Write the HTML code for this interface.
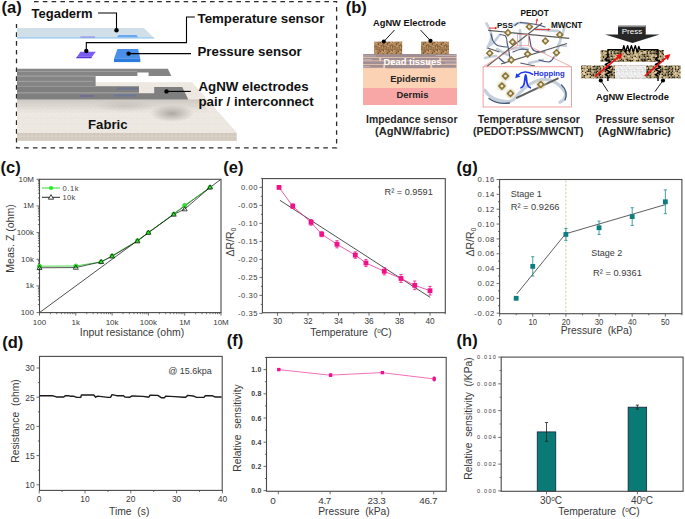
<!DOCTYPE html>
<html><head><meta charset="utf-8"><style>
html,body{margin:0;padding:0;background:#fff;overflow:hidden;}
svg{display:block;}
text{font-family:"Liberation Sans", sans-serif;white-space:pre;}
</style></head><body>
<svg width="685" height="519" viewBox="0 0 685 519">
<defs>
<pattern id="brown" width="9" height="9" patternUnits="userSpaceOnUse"><rect width="9" height="9" fill="#b08658"/><rect x="8.53" y="3.55" width="0.6" height="0.6" fill="#d4aa78"/><rect x="7.39" y="0.85" width="0.6" height="0.6" fill="#7a5634"/><rect x="1.93" y="0.77" width="1.2" height="1.2" fill="#6a4828"/><rect x="2.17" y="4.96" width="0.6" height="0.6" fill="#7a5634"/><rect x="5.09" y="8.53" width="0.6" height="0.6" fill="#caa070"/><rect x="5.27" y="0.45" width="0.8" height="0.8" fill="#6a4828"/><rect x="5.01" y="1.20" width="1.2" height="1.2" fill="#7a5634"/><rect x="4.87" y="5.14" width="0.8" height="0.8" fill="#8e6840"/><rect x="5.23" y="5.75" width="1.0" height="1.0" fill="#7a5634"/><rect x="4.93" y="0.57" width="0.6" height="0.6" fill="#7a5634"/><rect x="1.85" y="6.12" width="1.2" height="1.2" fill="#6a4828"/><rect x="2.83" y="5.27" width="1.2" height="1.2" fill="#caa070"/><rect x="2.70" y="7.15" width="0.8" height="0.8" fill="#d4aa78"/><rect x="5.17" y="4.73" width="1.0" height="1.0" fill="#7a5634"/><rect x="4.04" y="5.48" width="0.6" height="0.6" fill="#9a7248"/><rect x="4.61" y="1.48" width="1.0" height="1.0" fill="#7a5634"/><rect x="8.40" y="3.80" width="0.6" height="0.6" fill="#8e6840"/><rect x="5.02" y="7.10" width="1.0" height="1.0" fill="#caa070"/><rect x="6.26" y="5.35" width="1.2" height="1.2" fill="#d4aa78"/><rect x="7.56" y="8.50" width="1.2" height="1.2" fill="#7a5634"/><rect x="5.98" y="0.55" width="1.0" height="1.0" fill="#9a7248"/><rect x="5.20" y="6.13" width="1.2" height="1.2" fill="#9a7248"/><rect x="6.45" y="7.98" width="1.0" height="1.0" fill="#d4aa78"/><rect x="8.47" y="3.20" width="0.6" height="0.6" fill="#7a5634"/><rect x="0.53" y="6.91" width="0.8" height="0.8" fill="#c89a68"/><rect x="2.23" y="3.52" width="1.2" height="1.2" fill="#9a7248"/><rect x="1.50" y="3.61" width="1.0" height="1.0" fill="#7a5634"/><rect x="7.37" y="7.78" width="1.0" height="1.0" fill="#8e6840"/><rect x="3.74" y="3.23" width="1.2" height="1.2" fill="#9a7248"/><rect x="1.36" y="1.59" width="0.8" height="0.8" fill="#8e6840"/><rect x="2.10" y="4.36" width="0.8" height="0.8" fill="#9a7248"/><rect x="2.54" y="1.31" width="1.0" height="1.0" fill="#d4aa78"/><rect x="5.10" y="8.58" width="0.6" height="0.6" fill="#6a4828"/><rect x="8.10" y="7.02" width="1.2" height="1.2" fill="#c89a68"/><rect x="3.59" y="0.93" width="1.2" height="1.2" fill="#c89a68"/><rect x="1.72" y="8.86" width="1.2" height="1.2" fill="#7a5634"/><rect x="0.99" y="5.41" width="0.6" height="0.6" fill="#8e6840"/><rect x="5.10" y="4.83" width="1.0" height="1.0" fill="#7a5634"/><rect x="0.23" y="7.87" width="1.2" height="1.2" fill="#6a4828"/><rect x="5.71" y="8.60" width="1.0" height="1.0" fill="#8e6840"/><rect x="1.11" y="7.64" width="1.2" height="1.2" fill="#c89a68"/><rect x="4.35" y="0.77" width="0.6" height="0.6" fill="#c89a68"/><rect x="3.08" y="2.38" width="0.8" height="0.8" fill="#9a7248"/><rect x="0.21" y="8.56" width="1.0" height="1.0" fill="#6a4828"/><rect x="6.21" y="8.23" width="1.0" height="1.0" fill="#8e6840"/><rect x="7.77" y="6.27" width="1.0" height="1.0" fill="#9a7248"/><rect x="3.30" y="1.50" width="0.8" height="0.8" fill="#6a4828"/><rect x="4.87" y="4.52" width="0.8" height="0.8" fill="#6a4828"/><rect x="7.30" y="8.86" width="0.8" height="0.8" fill="#6a4828"/><rect x="2.15" y="3.61" width="0.8" height="0.8" fill="#caa070"/><rect x="4.66" y="3.20" width="0.6" height="0.6" fill="#8e6840"/><rect x="7.11" y="4.25" width="0.8" height="0.8" fill="#7a5634"/><rect x="5.45" y="3.10" width="1.0" height="1.0" fill="#9a7248"/><rect x="0.72" y="0.92" width="1.2" height="1.2" fill="#d4aa78"/><rect x="3.04" y="4.34" width="0.6" height="0.6" fill="#8e6840"/><rect x="8.18" y="3.10" width="0.6" height="0.6" fill="#c89a68"/><rect x="5.95" y="8.19" width="0.8" height="0.8" fill="#caa070"/><rect x="8.00" y="3.91" width="1.0" height="1.0" fill="#c89a68"/><rect x="7.21" y="8.74" width="1.2" height="1.2" fill="#7a5634"/><rect x="3.61" y="8.52" width="0.8" height="0.8" fill="#c89a68"/><rect x="8.94" y="0.25" width="1.2" height="1.2" fill="#8e6840"/><rect x="5.90" y="5.50" width="1.2" height="1.2" fill="#caa070"/><rect x="8.44" y="1.40" width="0.8" height="0.8" fill="#9a7248"/><rect x="0.13" y="8.74" width="0.6" height="0.6" fill="#7a5634"/><rect x="6.75" y="1.25" width="0.8" height="0.8" fill="#6a4828"/><rect x="7.87" y="0.25" width="0.8" height="0.8" fill="#caa070"/><rect x="4.51" y="6.87" width="1.0" height="1.0" fill="#d4aa78"/><rect x="4.90" y="7.51" width="0.6" height="0.6" fill="#d4aa78"/><rect x="3.18" y="4.12" width="1.2" height="1.2" fill="#9a7248"/><rect x="8.26" y="4.51" width="0.8" height="0.8" fill="#caa070"/><rect x="4.59" y="7.86" width="0.8" height="0.8" fill="#6a4828"/><rect x="0.04" y="7.19" width="0.8" height="0.8" fill="#6a4828"/><rect x="4.26" y="6.53" width="0.6" height="0.6" fill="#8e6840"/><rect x="6.14" y="4.78" width="1.2" height="1.2" fill="#d4aa78"/><rect x="6.99" y="7.95" width="0.6" height="0.6" fill="#caa070"/><rect x="1.72" y="0.38" width="0.6" height="0.6" fill="#8e6840"/><rect x="4.07" y="0.25" width="0.6" height="0.6" fill="#6a4828"/><rect x="2.93" y="8.76" width="0.8" height="0.8" fill="#c89a68"/><rect x="2.49" y="4.57" width="1.2" height="1.2" fill="#9a7248"/><rect x="8.47" y="6.29" width="1.0" height="1.0" fill="#6a4828"/><rect x="8.03" y="1.82" width="1.2" height="1.2" fill="#6a4828"/><rect x="3.75" y="3.53" width="1.0" height="1.0" fill="#8e6840"/><rect x="6.04" y="3.86" width="0.8" height="0.8" fill="#7a5634"/><rect x="2.73" y="1.10" width="0.8" height="0.8" fill="#9a7248"/><rect x="5.79" y="3.30" width="1.0" height="1.0" fill="#9a7248"/><rect x="8.71" y="1.98" width="0.6" height="0.6" fill="#8e6840"/><rect x="7.96" y="1.47" width="0.8" height="0.8" fill="#c89a68"/><rect x="6.36" y="8.95" width="1.2" height="1.2" fill="#8e6840"/><rect x="3.79" y="3.21" width="0.6" height="0.6" fill="#d4aa78"/><rect x="3.29" y="3.04" width="1.2" height="1.2" fill="#9a7248"/><rect x="6.33" y="3.46" width="1.0" height="1.0" fill="#c89a68"/><rect x="8.65" y="1.02" width="0.8" height="0.8" fill="#6a4828"/><rect x="0.76" y="2.45" width="0.8" height="0.8" fill="#7a5634"/><rect x="6.80" y="7.38" width="1.0" height="1.0" fill="#d4aa78"/><rect x="1.34" y="8.27" width="1.2" height="1.2" fill="#c89a68"/><rect x="2.94" y="2.51" width="0.8" height="0.8" fill="#9a7248"/><rect x="8.06" y="2.42" width="0.6" height="0.6" fill="#c89a68"/><rect x="0.80" y="2.34" width="0.8" height="0.8" fill="#9a7248"/><rect x="2.38" y="1.10" width="0.6" height="0.6" fill="#7a5634"/><rect x="8.95" y="3.76" width="1.0" height="1.0" fill="#d4aa78"/><rect x="1.16" y="4.74" width="0.8" height="0.8" fill="#6a4828"/><rect x="8.72" y="2.36" width="0.8" height="0.8" fill="#7a5634"/><rect x="8.39" y="5.66" width="0.8" height="0.8" fill="#8e6840"/><rect x="4.01" y="6.05" width="1.0" height="1.0" fill="#d4aa78"/><rect x="7.23" y="8.95" width="0.6" height="0.6" fill="#d4aa78"/><rect x="0.17" y="4.55" width="0.8" height="0.8" fill="#7a5634"/><rect x="4.27" y="8.41" width="0.6" height="0.6" fill="#6a4828"/><rect x="7.37" y="3.89" width="1.2" height="1.2" fill="#9a7248"/><rect x="7.51" y="3.54" width="1.0" height="1.0" fill="#6a4828"/><rect x="1.94" y="2.07" width="0.8" height="0.8" fill="#9a7248"/><rect x="7.94" y="6.56" width="0.8" height="0.8" fill="#caa070"/><rect x="8.90" y="8.84" width="0.8" height="0.8" fill="#c89a68"/><rect x="0.64" y="6.67" width="1.0" height="1.0" fill="#7a5634"/><rect x="1.47" y="0.76" width="1.2" height="1.2" fill="#c89a68"/><rect x="4.55" y="8.74" width="0.8" height="0.8" fill="#caa070"/><rect x="2.64" y="4.14" width="0.8" height="0.8" fill="#9a7248"/><rect x="4.01" y="2.37" width="1.0" height="1.0" fill="#d4aa78"/><rect x="2.91" y="0.31" width="1.0" height="1.0" fill="#6a4828"/><rect x="3.21" y="0.01" width="1.2" height="1.2" fill="#8e6840"/><rect x="4.27" y="4.52" width="0.8" height="0.8" fill="#7a5634"/></pattern>
<pattern id="burlap" width="36" height="36" patternUnits="userSpaceOnUse"><rect x="0.00" y="0.00" width="1.55" height="1.55" fill="#b09a68"/><rect x="0.00" y="1.50" width="1.55" height="1.55" fill="#3a2e1a"/><rect x="0.00" y="3.00" width="1.55" height="1.55" fill="#5a4a2c"/><rect x="0.00" y="4.50" width="1.55" height="1.55" fill="#cdb480"/><rect x="0.00" y="6.00" width="1.55" height="1.55" fill="#5a4a2c"/><rect x="0.00" y="7.50" width="1.55" height="1.55" fill="#8a7448"/><rect x="0.00" y="9.00" width="1.55" height="1.55" fill="#2a2214"/><rect x="0.00" y="10.50" width="1.55" height="1.55" fill="#3a2e1a"/><rect x="0.00" y="12.00" width="1.55" height="1.55" fill="#2a2214"/><rect x="0.00" y="13.50" width="1.55" height="1.55" fill="#3a2e1a"/><rect x="0.00" y="15.00" width="1.55" height="1.55" fill="#cdb480"/><rect x="0.00" y="16.50" width="1.55" height="1.55" fill="#cdb480"/><rect x="0.00" y="18.00" width="1.55" height="1.55" fill="#b09a68"/><rect x="0.00" y="19.50" width="1.55" height="1.55" fill="#5a4a2c"/><rect x="0.00" y="21.00" width="1.55" height="1.55" fill="#8a7448"/><rect x="0.00" y="22.50" width="1.55" height="1.55" fill="#2a2214"/><rect x="0.00" y="24.00" width="1.55" height="1.55" fill="#dcc898"/><rect x="0.00" y="25.50" width="1.55" height="1.55" fill="#a08858"/><rect x="0.00" y="27.00" width="1.55" height="1.55" fill="#8a7448"/><rect x="0.00" y="28.50" width="1.55" height="1.55" fill="#cdb480"/><rect x="0.00" y="30.00" width="1.55" height="1.55" fill="#8a7448"/><rect x="0.00" y="31.50" width="1.55" height="1.55" fill="#3a2e1a"/><rect x="0.00" y="33.00" width="1.55" height="1.55" fill="#2a2214"/><rect x="0.00" y="34.50" width="1.55" height="1.55" fill="#8a7448"/><rect x="1.50" y="0.00" width="1.55" height="1.55" fill="#3a2e1a"/><rect x="1.50" y="1.50" width="1.55" height="1.55" fill="#b09a68"/><rect x="1.50" y="3.00" width="1.55" height="1.55" fill="#5a4a2c"/><rect x="1.50" y="4.50" width="1.55" height="1.55" fill="#3a2e1a"/><rect x="1.50" y="6.00" width="1.55" height="1.55" fill="#3a2e1a"/><rect x="1.50" y="7.50" width="1.55" height="1.55" fill="#8a7448"/><rect x="1.50" y="9.00" width="1.55" height="1.55" fill="#dcc898"/><rect x="1.50" y="10.50" width="1.55" height="1.55" fill="#5a4a2c"/><rect x="1.50" y="12.00" width="1.55" height="1.55" fill="#2a2214"/><rect x="1.50" y="13.50" width="1.55" height="1.55" fill="#a08858"/><rect x="1.50" y="15.00" width="1.55" height="1.55" fill="#3a2e1a"/><rect x="1.50" y="16.50" width="1.55" height="1.55" fill="#3a2e1a"/><rect x="1.50" y="18.00" width="1.55" height="1.55" fill="#b09a68"/><rect x="1.50" y="19.50" width="1.55" height="1.55" fill="#a08858"/><rect x="1.50" y="21.00" width="1.55" height="1.55" fill="#cdb480"/><rect x="1.50" y="22.50" width="1.55" height="1.55" fill="#3a2e1a"/><rect x="1.50" y="24.00" width="1.55" height="1.55" fill="#a08858"/><rect x="1.50" y="25.50" width="1.55" height="1.55" fill="#5a4a2c"/><rect x="1.50" y="27.00" width="1.55" height="1.55" fill="#5a4a2c"/><rect x="1.50" y="28.50" width="1.55" height="1.55" fill="#5a4a2c"/><rect x="1.50" y="30.00" width="1.55" height="1.55" fill="#a08858"/><rect x="1.50" y="31.50" width="1.55" height="1.55" fill="#cdb480"/><rect x="1.50" y="33.00" width="1.55" height="1.55" fill="#5a4a2c"/><rect x="1.50" y="34.50" width="1.55" height="1.55" fill="#cdb480"/><rect x="3.00" y="0.00" width="1.55" height="1.55" fill="#b09a68"/><rect x="3.00" y="1.50" width="1.55" height="1.55" fill="#b09a68"/><rect x="3.00" y="3.00" width="1.55" height="1.55" fill="#b09a68"/><rect x="3.00" y="4.50" width="1.55" height="1.55" fill="#a08858"/><rect x="3.00" y="6.00" width="1.55" height="1.55" fill="#a08858"/><rect x="3.00" y="7.50" width="1.55" height="1.55" fill="#2a2214"/><rect x="3.00" y="9.00" width="1.55" height="1.55" fill="#5a4a2c"/><rect x="3.00" y="10.50" width="1.55" height="1.55" fill="#a08858"/><rect x="3.00" y="12.00" width="1.55" height="1.55" fill="#cdb480"/><rect x="3.00" y="13.50" width="1.55" height="1.55" fill="#3a2e1a"/><rect x="3.00" y="15.00" width="1.55" height="1.55" fill="#b09a68"/><rect x="3.00" y="16.50" width="1.55" height="1.55" fill="#5a4a2c"/><rect x="3.00" y="18.00" width="1.55" height="1.55" fill="#8a7448"/><rect x="3.00" y="19.50" width="1.55" height="1.55" fill="#dcc898"/><rect x="3.00" y="21.00" width="1.55" height="1.55" fill="#cdb480"/><rect x="3.00" y="22.50" width="1.55" height="1.55" fill="#cdb480"/><rect x="3.00" y="24.00" width="1.55" height="1.55" fill="#8a7448"/><rect x="3.00" y="25.50" width="1.55" height="1.55" fill="#3a2e1a"/><rect x="3.00" y="27.00" width="1.55" height="1.55" fill="#a08858"/><rect x="3.00" y="28.50" width="1.55" height="1.55" fill="#3a2e1a"/><rect x="3.00" y="30.00" width="1.55" height="1.55" fill="#a08858"/><rect x="3.00" y="31.50" width="1.55" height="1.55" fill="#cdb480"/><rect x="3.00" y="33.00" width="1.55" height="1.55" fill="#5a4a2c"/><rect x="3.00" y="34.50" width="1.55" height="1.55" fill="#b09a68"/><rect x="4.50" y="0.00" width="1.55" height="1.55" fill="#a08858"/><rect x="4.50" y="1.50" width="1.55" height="1.55" fill="#cdb480"/><rect x="4.50" y="3.00" width="1.55" height="1.55" fill="#cdb480"/><rect x="4.50" y="4.50" width="1.55" height="1.55" fill="#a08858"/><rect x="4.50" y="6.00" width="1.55" height="1.55" fill="#a08858"/><rect x="4.50" y="7.50" width="1.55" height="1.55" fill="#a08858"/><rect x="4.50" y="9.00" width="1.55" height="1.55" fill="#5a4a2c"/><rect x="4.50" y="10.50" width="1.55" height="1.55" fill="#b09a68"/><rect x="4.50" y="12.00" width="1.55" height="1.55" fill="#cdb480"/><rect x="4.50" y="13.50" width="1.55" height="1.55" fill="#5a4a2c"/><rect x="4.50" y="15.00" width="1.55" height="1.55" fill="#a08858"/><rect x="4.50" y="16.50" width="1.55" height="1.55" fill="#3a2e1a"/><rect x="4.50" y="18.00" width="1.55" height="1.55" fill="#cdb480"/><rect x="4.50" y="19.50" width="1.55" height="1.55" fill="#a08858"/><rect x="4.50" y="21.00" width="1.55" height="1.55" fill="#5a4a2c"/><rect x="4.50" y="22.50" width="1.55" height="1.55" fill="#a08858"/><rect x="4.50" y="24.00" width="1.55" height="1.55" fill="#cdb480"/><rect x="4.50" y="25.50" width="1.55" height="1.55" fill="#2a2214"/><rect x="4.50" y="27.00" width="1.55" height="1.55" fill="#b09a68"/><rect x="4.50" y="28.50" width="1.55" height="1.55" fill="#b09a68"/><rect x="4.50" y="30.00" width="1.55" height="1.55" fill="#5a4a2c"/><rect x="4.50" y="31.50" width="1.55" height="1.55" fill="#5a4a2c"/><rect x="4.50" y="33.00" width="1.55" height="1.55" fill="#8a7448"/><rect x="4.50" y="34.50" width="1.55" height="1.55" fill="#cdb480"/><rect x="6.00" y="0.00" width="1.55" height="1.55" fill="#dcc898"/><rect x="6.00" y="1.50" width="1.55" height="1.55" fill="#8a7448"/><rect x="6.00" y="3.00" width="1.55" height="1.55" fill="#cdb480"/><rect x="6.00" y="4.50" width="1.55" height="1.55" fill="#5a4a2c"/><rect x="6.00" y="6.00" width="1.55" height="1.55" fill="#dcc898"/><rect x="6.00" y="7.50" width="1.55" height="1.55" fill="#b09a68"/><rect x="6.00" y="9.00" width="1.55" height="1.55" fill="#a08858"/><rect x="6.00" y="10.50" width="1.55" height="1.55" fill="#a08858"/><rect x="6.00" y="12.00" width="1.55" height="1.55" fill="#2a2214"/><rect x="6.00" y="13.50" width="1.55" height="1.55" fill="#3a2e1a"/><rect x="6.00" y="15.00" width="1.55" height="1.55" fill="#8a7448"/><rect x="6.00" y="16.50" width="1.55" height="1.55" fill="#3a2e1a"/><rect x="6.00" y="18.00" width="1.55" height="1.55" fill="#a08858"/><rect x="6.00" y="19.50" width="1.55" height="1.55" fill="#a08858"/><rect x="6.00" y="21.00" width="1.55" height="1.55" fill="#2a2214"/><rect x="6.00" y="22.50" width="1.55" height="1.55" fill="#cdb480"/><rect x="6.00" y="24.00" width="1.55" height="1.55" fill="#8a7448"/><rect x="6.00" y="25.50" width="1.55" height="1.55" fill="#2a2214"/><rect x="6.00" y="27.00" width="1.55" height="1.55" fill="#dcc898"/><rect x="6.00" y="28.50" width="1.55" height="1.55" fill="#2a2214"/><rect x="6.00" y="30.00" width="1.55" height="1.55" fill="#dcc898"/><rect x="6.00" y="31.50" width="1.55" height="1.55" fill="#5a4a2c"/><rect x="6.00" y="33.00" width="1.55" height="1.55" fill="#dcc898"/><rect x="6.00" y="34.50" width="1.55" height="1.55" fill="#3a2e1a"/><rect x="7.50" y="0.00" width="1.55" height="1.55" fill="#dcc898"/><rect x="7.50" y="1.50" width="1.55" height="1.55" fill="#dcc898"/><rect x="7.50" y="3.00" width="1.55" height="1.55" fill="#2a2214"/><rect x="7.50" y="4.50" width="1.55" height="1.55" fill="#5a4a2c"/><rect x="7.50" y="6.00" width="1.55" height="1.55" fill="#b09a68"/><rect x="7.50" y="7.50" width="1.55" height="1.55" fill="#3a2e1a"/><rect x="7.50" y="9.00" width="1.55" height="1.55" fill="#cdb480"/><rect x="7.50" y="10.50" width="1.55" height="1.55" fill="#cdb480"/><rect x="7.50" y="12.00" width="1.55" height="1.55" fill="#dcc898"/><rect x="7.50" y="13.50" width="1.55" height="1.55" fill="#5a4a2c"/><rect x="7.50" y="15.00" width="1.55" height="1.55" fill="#2a2214"/><rect x="7.50" y="16.50" width="1.55" height="1.55" fill="#2a2214"/><rect x="7.50" y="18.00" width="1.55" height="1.55" fill="#5a4a2c"/><rect x="7.50" y="19.50" width="1.55" height="1.55" fill="#dcc898"/><rect x="7.50" y="21.00" width="1.55" height="1.55" fill="#2a2214"/><rect x="7.50" y="22.50" width="1.55" height="1.55" fill="#cdb480"/><rect x="7.50" y="24.00" width="1.55" height="1.55" fill="#3a2e1a"/><rect x="7.50" y="25.50" width="1.55" height="1.55" fill="#cdb480"/><rect x="7.50" y="27.00" width="1.55" height="1.55" fill="#5a4a2c"/><rect x="7.50" y="28.50" width="1.55" height="1.55" fill="#3a2e1a"/><rect x="7.50" y="30.00" width="1.55" height="1.55" fill="#cdb480"/><rect x="7.50" y="31.50" width="1.55" height="1.55" fill="#8a7448"/><rect x="7.50" y="33.00" width="1.55" height="1.55" fill="#b09a68"/><rect x="7.50" y="34.50" width="1.55" height="1.55" fill="#cdb480"/><rect x="9.00" y="0.00" width="1.55" height="1.55" fill="#2a2214"/><rect x="9.00" y="1.50" width="1.55" height="1.55" fill="#dcc898"/><rect x="9.00" y="3.00" width="1.55" height="1.55" fill="#b09a68"/><rect x="9.00" y="4.50" width="1.55" height="1.55" fill="#dcc898"/><rect x="9.00" y="6.00" width="1.55" height="1.55" fill="#2a2214"/><rect x="9.00" y="7.50" width="1.55" height="1.55" fill="#3a2e1a"/><rect x="9.00" y="9.00" width="1.55" height="1.55" fill="#2a2214"/><rect x="9.00" y="10.50" width="1.55" height="1.55" fill="#b09a68"/><rect x="9.00" y="12.00" width="1.55" height="1.55" fill="#5a4a2c"/><rect x="9.00" y="13.50" width="1.55" height="1.55" fill="#3a2e1a"/><rect x="9.00" y="15.00" width="1.55" height="1.55" fill="#2a2214"/><rect x="9.00" y="16.50" width="1.55" height="1.55" fill="#a08858"/><rect x="9.00" y="18.00" width="1.55" height="1.55" fill="#8a7448"/><rect x="9.00" y="19.50" width="1.55" height="1.55" fill="#cdb480"/><rect x="9.00" y="21.00" width="1.55" height="1.55" fill="#a08858"/><rect x="9.00" y="22.50" width="1.55" height="1.55" fill="#3a2e1a"/><rect x="9.00" y="24.00" width="1.55" height="1.55" fill="#8a7448"/><rect x="9.00" y="25.50" width="1.55" height="1.55" fill="#8a7448"/><rect x="9.00" y="27.00" width="1.55" height="1.55" fill="#a08858"/><rect x="9.00" y="28.50" width="1.55" height="1.55" fill="#2a2214"/><rect x="9.00" y="30.00" width="1.55" height="1.55" fill="#dcc898"/><rect x="9.00" y="31.50" width="1.55" height="1.55" fill="#cdb480"/><rect x="9.00" y="33.00" width="1.55" height="1.55" fill="#cdb480"/><rect x="9.00" y="34.50" width="1.55" height="1.55" fill="#cdb480"/><rect x="10.50" y="0.00" width="1.55" height="1.55" fill="#cdb480"/><rect x="10.50" y="1.50" width="1.55" height="1.55" fill="#2a2214"/><rect x="10.50" y="3.00" width="1.55" height="1.55" fill="#b09a68"/><rect x="10.50" y="4.50" width="1.55" height="1.55" fill="#cdb480"/><rect x="10.50" y="6.00" width="1.55" height="1.55" fill="#a08858"/><rect x="10.50" y="7.50" width="1.55" height="1.55" fill="#2a2214"/><rect x="10.50" y="9.00" width="1.55" height="1.55" fill="#5a4a2c"/><rect x="10.50" y="10.50" width="1.55" height="1.55" fill="#8a7448"/><rect x="10.50" y="12.00" width="1.55" height="1.55" fill="#8a7448"/><rect x="10.50" y="13.50" width="1.55" height="1.55" fill="#5a4a2c"/><rect x="10.50" y="15.00" width="1.55" height="1.55" fill="#b09a68"/><rect x="10.50" y="16.50" width="1.55" height="1.55" fill="#a08858"/><rect x="10.50" y="18.00" width="1.55" height="1.55" fill="#b09a68"/><rect x="10.50" y="19.50" width="1.55" height="1.55" fill="#a08858"/><rect x="10.50" y="21.00" width="1.55" height="1.55" fill="#dcc898"/><rect x="10.50" y="22.50" width="1.55" height="1.55" fill="#a08858"/><rect x="10.50" y="24.00" width="1.55" height="1.55" fill="#2a2214"/><rect x="10.50" y="25.50" width="1.55" height="1.55" fill="#8a7448"/><rect x="10.50" y="27.00" width="1.55" height="1.55" fill="#b09a68"/><rect x="10.50" y="28.50" width="1.55" height="1.55" fill="#b09a68"/><rect x="10.50" y="30.00" width="1.55" height="1.55" fill="#5a4a2c"/><rect x="10.50" y="31.50" width="1.55" height="1.55" fill="#8a7448"/><rect x="10.50" y="33.00" width="1.55" height="1.55" fill="#dcc898"/><rect x="10.50" y="34.50" width="1.55" height="1.55" fill="#5a4a2c"/><rect x="12.00" y="0.00" width="1.55" height="1.55" fill="#dcc898"/><rect x="12.00" y="1.50" width="1.55" height="1.55" fill="#b09a68"/><rect x="12.00" y="3.00" width="1.55" height="1.55" fill="#dcc898"/><rect x="12.00" y="4.50" width="1.55" height="1.55" fill="#cdb480"/><rect x="12.00" y="6.00" width="1.55" height="1.55" fill="#b09a68"/><rect x="12.00" y="7.50" width="1.55" height="1.55" fill="#3a2e1a"/><rect x="12.00" y="9.00" width="1.55" height="1.55" fill="#2a2214"/><rect x="12.00" y="10.50" width="1.55" height="1.55" fill="#2a2214"/><rect x="12.00" y="12.00" width="1.55" height="1.55" fill="#2a2214"/><rect x="12.00" y="13.50" width="1.55" height="1.55" fill="#b09a68"/><rect x="12.00" y="15.00" width="1.55" height="1.55" fill="#2a2214"/><rect x="12.00" y="16.50" width="1.55" height="1.55" fill="#cdb480"/><rect x="12.00" y="18.00" width="1.55" height="1.55" fill="#dcc898"/><rect x="12.00" y="19.50" width="1.55" height="1.55" fill="#3a2e1a"/><rect x="12.00" y="21.00" width="1.55" height="1.55" fill="#a08858"/><rect x="12.00" y="22.50" width="1.55" height="1.55" fill="#cdb480"/><rect x="12.00" y="24.00" width="1.55" height="1.55" fill="#dcc898"/><rect x="12.00" y="25.50" width="1.55" height="1.55" fill="#8a7448"/><rect x="12.00" y="27.00" width="1.55" height="1.55" fill="#b09a68"/><rect x="12.00" y="28.50" width="1.55" height="1.55" fill="#5a4a2c"/><rect x="12.00" y="30.00" width="1.55" height="1.55" fill="#cdb480"/><rect x="12.00" y="31.50" width="1.55" height="1.55" fill="#b09a68"/><rect x="12.00" y="33.00" width="1.55" height="1.55" fill="#2a2214"/><rect x="12.00" y="34.50" width="1.55" height="1.55" fill="#2a2214"/><rect x="13.50" y="0.00" width="1.55" height="1.55" fill="#a08858"/><rect x="13.50" y="1.50" width="1.55" height="1.55" fill="#2a2214"/><rect x="13.50" y="3.00" width="1.55" height="1.55" fill="#cdb480"/><rect x="13.50" y="4.50" width="1.55" height="1.55" fill="#3a2e1a"/><rect x="13.50" y="6.00" width="1.55" height="1.55" fill="#8a7448"/><rect x="13.50" y="7.50" width="1.55" height="1.55" fill="#3a2e1a"/><rect x="13.50" y="9.00" width="1.55" height="1.55" fill="#2a2214"/><rect x="13.50" y="10.50" width="1.55" height="1.55" fill="#a08858"/><rect x="13.50" y="12.00" width="1.55" height="1.55" fill="#a08858"/><rect x="13.50" y="13.50" width="1.55" height="1.55" fill="#3a2e1a"/><rect x="13.50" y="15.00" width="1.55" height="1.55" fill="#5a4a2c"/><rect x="13.50" y="16.50" width="1.55" height="1.55" fill="#2a2214"/><rect x="13.50" y="18.00" width="1.55" height="1.55" fill="#a08858"/><rect x="13.50" y="19.50" width="1.55" height="1.55" fill="#a08858"/><rect x="13.50" y="21.00" width="1.55" height="1.55" fill="#b09a68"/><rect x="13.50" y="22.50" width="1.55" height="1.55" fill="#5a4a2c"/><rect x="13.50" y="24.00" width="1.55" height="1.55" fill="#b09a68"/><rect x="13.50" y="25.50" width="1.55" height="1.55" fill="#8a7448"/><rect x="13.50" y="27.00" width="1.55" height="1.55" fill="#8a7448"/><rect x="13.50" y="28.50" width="1.55" height="1.55" fill="#5a4a2c"/><rect x="13.50" y="30.00" width="1.55" height="1.55" fill="#a08858"/><rect x="13.50" y="31.50" width="1.55" height="1.55" fill="#5a4a2c"/><rect x="13.50" y="33.00" width="1.55" height="1.55" fill="#3a2e1a"/><rect x="13.50" y="34.50" width="1.55" height="1.55" fill="#3a2e1a"/><rect x="15.00" y="0.00" width="1.55" height="1.55" fill="#8a7448"/><rect x="15.00" y="1.50" width="1.55" height="1.55" fill="#b09a68"/><rect x="15.00" y="3.00" width="1.55" height="1.55" fill="#3a2e1a"/><rect x="15.00" y="4.50" width="1.55" height="1.55" fill="#cdb480"/><rect x="15.00" y="6.00" width="1.55" height="1.55" fill="#8a7448"/><rect x="15.00" y="7.50" width="1.55" height="1.55" fill="#cdb480"/><rect x="15.00" y="9.00" width="1.55" height="1.55" fill="#2a2214"/><rect x="15.00" y="10.50" width="1.55" height="1.55" fill="#5a4a2c"/><rect x="15.00" y="12.00" width="1.55" height="1.55" fill="#5a4a2c"/><rect x="15.00" y="13.50" width="1.55" height="1.55" fill="#5a4a2c"/><rect x="15.00" y="15.00" width="1.55" height="1.55" fill="#cdb480"/><rect x="15.00" y="16.50" width="1.55" height="1.55" fill="#b09a68"/><rect x="15.00" y="18.00" width="1.55" height="1.55" fill="#2a2214"/><rect x="15.00" y="19.50" width="1.55" height="1.55" fill="#cdb480"/><rect x="15.00" y="21.00" width="1.55" height="1.55" fill="#b09a68"/><rect x="15.00" y="22.50" width="1.55" height="1.55" fill="#3a2e1a"/><rect x="15.00" y="24.00" width="1.55" height="1.55" fill="#3a2e1a"/><rect x="15.00" y="25.50" width="1.55" height="1.55" fill="#cdb480"/><rect x="15.00" y="27.00" width="1.55" height="1.55" fill="#a08858"/><rect x="15.00" y="28.50" width="1.55" height="1.55" fill="#cdb480"/><rect x="15.00" y="30.00" width="1.55" height="1.55" fill="#dcc898"/><rect x="15.00" y="31.50" width="1.55" height="1.55" fill="#b09a68"/><rect x="15.00" y="33.00" width="1.55" height="1.55" fill="#a08858"/><rect x="15.00" y="34.50" width="1.55" height="1.55" fill="#b09a68"/><rect x="16.50" y="0.00" width="1.55" height="1.55" fill="#b09a68"/><rect x="16.50" y="1.50" width="1.55" height="1.55" fill="#3a2e1a"/><rect x="16.50" y="3.00" width="1.55" height="1.55" fill="#2a2214"/><rect x="16.50" y="4.50" width="1.55" height="1.55" fill="#cdb480"/><rect x="16.50" y="6.00" width="1.55" height="1.55" fill="#3a2e1a"/><rect x="16.50" y="7.50" width="1.55" height="1.55" fill="#3a2e1a"/><rect x="16.50" y="9.00" width="1.55" height="1.55" fill="#b09a68"/><rect x="16.50" y="10.50" width="1.55" height="1.55" fill="#a08858"/><rect x="16.50" y="12.00" width="1.55" height="1.55" fill="#2a2214"/><rect x="16.50" y="13.50" width="1.55" height="1.55" fill="#5a4a2c"/><rect x="16.50" y="15.00" width="1.55" height="1.55" fill="#cdb480"/><rect x="16.50" y="16.50" width="1.55" height="1.55" fill="#b09a68"/><rect x="16.50" y="18.00" width="1.55" height="1.55" fill="#2a2214"/><rect x="16.50" y="19.50" width="1.55" height="1.55" fill="#dcc898"/><rect x="16.50" y="21.00" width="1.55" height="1.55" fill="#b09a68"/><rect x="16.50" y="22.50" width="1.55" height="1.55" fill="#a08858"/><rect x="16.50" y="24.00" width="1.55" height="1.55" fill="#3a2e1a"/><rect x="16.50" y="25.50" width="1.55" height="1.55" fill="#dcc898"/><rect x="16.50" y="27.00" width="1.55" height="1.55" fill="#2a2214"/><rect x="16.50" y="28.50" width="1.55" height="1.55" fill="#dcc898"/><rect x="16.50" y="30.00" width="1.55" height="1.55" fill="#2a2214"/><rect x="16.50" y="31.50" width="1.55" height="1.55" fill="#b09a68"/><rect x="16.50" y="33.00" width="1.55" height="1.55" fill="#3a2e1a"/><rect x="16.50" y="34.50" width="1.55" height="1.55" fill="#cdb480"/><rect x="18.00" y="0.00" width="1.55" height="1.55" fill="#5a4a2c"/><rect x="18.00" y="1.50" width="1.55" height="1.55" fill="#b09a68"/><rect x="18.00" y="3.00" width="1.55" height="1.55" fill="#a08858"/><rect x="18.00" y="4.50" width="1.55" height="1.55" fill="#b09a68"/><rect x="18.00" y="6.00" width="1.55" height="1.55" fill="#cdb480"/><rect x="18.00" y="7.50" width="1.55" height="1.55" fill="#b09a68"/><rect x="18.00" y="9.00" width="1.55" height="1.55" fill="#b09a68"/><rect x="18.00" y="10.50" width="1.55" height="1.55" fill="#a08858"/><rect x="18.00" y="12.00" width="1.55" height="1.55" fill="#b09a68"/><rect x="18.00" y="13.50" width="1.55" height="1.55" fill="#cdb480"/><rect x="18.00" y="15.00" width="1.55" height="1.55" fill="#cdb480"/><rect x="18.00" y="16.50" width="1.55" height="1.55" fill="#5a4a2c"/><rect x="18.00" y="18.00" width="1.55" height="1.55" fill="#a08858"/><rect x="18.00" y="19.50" width="1.55" height="1.55" fill="#8a7448"/><rect x="18.00" y="21.00" width="1.55" height="1.55" fill="#b09a68"/><rect x="18.00" y="22.50" width="1.55" height="1.55" fill="#a08858"/><rect x="18.00" y="24.00" width="1.55" height="1.55" fill="#2a2214"/><rect x="18.00" y="25.50" width="1.55" height="1.55" fill="#3a2e1a"/><rect x="18.00" y="27.00" width="1.55" height="1.55" fill="#8a7448"/><rect x="18.00" y="28.50" width="1.55" height="1.55" fill="#2a2214"/><rect x="18.00" y="30.00" width="1.55" height="1.55" fill="#3a2e1a"/><rect x="18.00" y="31.50" width="1.55" height="1.55" fill="#b09a68"/><rect x="18.00" y="33.00" width="1.55" height="1.55" fill="#3a2e1a"/><rect x="18.00" y="34.50" width="1.55" height="1.55" fill="#8a7448"/><rect x="19.50" y="0.00" width="1.55" height="1.55" fill="#2a2214"/><rect x="19.50" y="1.50" width="1.55" height="1.55" fill="#3a2e1a"/><rect x="19.50" y="3.00" width="1.55" height="1.55" fill="#3a2e1a"/><rect x="19.50" y="4.50" width="1.55" height="1.55" fill="#8a7448"/><rect x="19.50" y="6.00" width="1.55" height="1.55" fill="#2a2214"/><rect x="19.50" y="7.50" width="1.55" height="1.55" fill="#a08858"/><rect x="19.50" y="9.00" width="1.55" height="1.55" fill="#dcc898"/><rect x="19.50" y="10.50" width="1.55" height="1.55" fill="#5a4a2c"/><rect x="19.50" y="12.00" width="1.55" height="1.55" fill="#5a4a2c"/><rect x="19.50" y="13.50" width="1.55" height="1.55" fill="#8a7448"/><rect x="19.50" y="15.00" width="1.55" height="1.55" fill="#dcc898"/><rect x="19.50" y="16.50" width="1.55" height="1.55" fill="#b09a68"/><rect x="19.50" y="18.00" width="1.55" height="1.55" fill="#8a7448"/><rect x="19.50" y="19.50" width="1.55" height="1.55" fill="#a08858"/><rect x="19.50" y="21.00" width="1.55" height="1.55" fill="#3a2e1a"/><rect x="19.50" y="22.50" width="1.55" height="1.55" fill="#cdb480"/><rect x="19.50" y="24.00" width="1.55" height="1.55" fill="#2a2214"/><rect x="19.50" y="25.50" width="1.55" height="1.55" fill="#dcc898"/><rect x="19.50" y="27.00" width="1.55" height="1.55" fill="#dcc898"/><rect x="19.50" y="28.50" width="1.55" height="1.55" fill="#a08858"/><rect x="19.50" y="30.00" width="1.55" height="1.55" fill="#8a7448"/><rect x="19.50" y="31.50" width="1.55" height="1.55" fill="#5a4a2c"/><rect x="19.50" y="33.00" width="1.55" height="1.55" fill="#3a2e1a"/><rect x="19.50" y="34.50" width="1.55" height="1.55" fill="#5a4a2c"/><rect x="21.00" y="0.00" width="1.55" height="1.55" fill="#cdb480"/><rect x="21.00" y="1.50" width="1.55" height="1.55" fill="#5a4a2c"/><rect x="21.00" y="3.00" width="1.55" height="1.55" fill="#dcc898"/><rect x="21.00" y="4.50" width="1.55" height="1.55" fill="#2a2214"/><rect x="21.00" y="6.00" width="1.55" height="1.55" fill="#5a4a2c"/><rect x="21.00" y="7.50" width="1.55" height="1.55" fill="#b09a68"/><rect x="21.00" y="9.00" width="1.55" height="1.55" fill="#2a2214"/><rect x="21.00" y="10.50" width="1.55" height="1.55" fill="#dcc898"/><rect x="21.00" y="12.00" width="1.55" height="1.55" fill="#cdb480"/><rect x="21.00" y="13.50" width="1.55" height="1.55" fill="#2a2214"/><rect x="21.00" y="15.00" width="1.55" height="1.55" fill="#5a4a2c"/><rect x="21.00" y="16.50" width="1.55" height="1.55" fill="#3a2e1a"/><rect x="21.00" y="18.00" width="1.55" height="1.55" fill="#a08858"/><rect x="21.00" y="19.50" width="1.55" height="1.55" fill="#b09a68"/><rect x="21.00" y="21.00" width="1.55" height="1.55" fill="#dcc898"/><rect x="21.00" y="22.50" width="1.55" height="1.55" fill="#a08858"/><rect x="21.00" y="24.00" width="1.55" height="1.55" fill="#b09a68"/><rect x="21.00" y="25.50" width="1.55" height="1.55" fill="#dcc898"/><rect x="21.00" y="27.00" width="1.55" height="1.55" fill="#dcc898"/><rect x="21.00" y="28.50" width="1.55" height="1.55" fill="#a08858"/><rect x="21.00" y="30.00" width="1.55" height="1.55" fill="#3a2e1a"/><rect x="21.00" y="31.50" width="1.55" height="1.55" fill="#2a2214"/><rect x="21.00" y="33.00" width="1.55" height="1.55" fill="#b09a68"/><rect x="21.00" y="34.50" width="1.55" height="1.55" fill="#2a2214"/><rect x="22.50" y="0.00" width="1.55" height="1.55" fill="#3a2e1a"/><rect x="22.50" y="1.50" width="1.55" height="1.55" fill="#2a2214"/><rect x="22.50" y="3.00" width="1.55" height="1.55" fill="#3a2e1a"/><rect x="22.50" y="4.50" width="1.55" height="1.55" fill="#a08858"/><rect x="22.50" y="6.00" width="1.55" height="1.55" fill="#5a4a2c"/><rect x="22.50" y="7.50" width="1.55" height="1.55" fill="#3a2e1a"/><rect x="22.50" y="9.00" width="1.55" height="1.55" fill="#cdb480"/><rect x="22.50" y="10.50" width="1.55" height="1.55" fill="#b09a68"/><rect x="22.50" y="12.00" width="1.55" height="1.55" fill="#5a4a2c"/><rect x="22.50" y="13.50" width="1.55" height="1.55" fill="#dcc898"/><rect x="22.50" y="15.00" width="1.55" height="1.55" fill="#dcc898"/><rect x="22.50" y="16.50" width="1.55" height="1.55" fill="#cdb480"/><rect x="22.50" y="18.00" width="1.55" height="1.55" fill="#dcc898"/><rect x="22.50" y="19.50" width="1.55" height="1.55" fill="#3a2e1a"/><rect x="22.50" y="21.00" width="1.55" height="1.55" fill="#cdb480"/><rect x="22.50" y="22.50" width="1.55" height="1.55" fill="#dcc898"/><rect x="22.50" y="24.00" width="1.55" height="1.55" fill="#cdb480"/><rect x="22.50" y="25.50" width="1.55" height="1.55" fill="#cdb480"/><rect x="22.50" y="27.00" width="1.55" height="1.55" fill="#3a2e1a"/><rect x="22.50" y="28.50" width="1.55" height="1.55" fill="#5a4a2c"/><rect x="22.50" y="30.00" width="1.55" height="1.55" fill="#3a2e1a"/><rect x="22.50" y="31.50" width="1.55" height="1.55" fill="#b09a68"/><rect x="22.50" y="33.00" width="1.55" height="1.55" fill="#5a4a2c"/><rect x="22.50" y="34.50" width="1.55" height="1.55" fill="#a08858"/><rect x="24.00" y="0.00" width="1.55" height="1.55" fill="#a08858"/><rect x="24.00" y="1.50" width="1.55" height="1.55" fill="#2a2214"/><rect x="24.00" y="3.00" width="1.55" height="1.55" fill="#cdb480"/><rect x="24.00" y="4.50" width="1.55" height="1.55" fill="#2a2214"/><rect x="24.00" y="6.00" width="1.55" height="1.55" fill="#a08858"/><rect x="24.00" y="7.50" width="1.55" height="1.55" fill="#8a7448"/><rect x="24.00" y="9.00" width="1.55" height="1.55" fill="#a08858"/><rect x="24.00" y="10.50" width="1.55" height="1.55" fill="#8a7448"/><rect x="24.00" y="12.00" width="1.55" height="1.55" fill="#3a2e1a"/><rect x="24.00" y="13.50" width="1.55" height="1.55" fill="#cdb480"/><rect x="24.00" y="15.00" width="1.55" height="1.55" fill="#8a7448"/><rect x="24.00" y="16.50" width="1.55" height="1.55" fill="#b09a68"/><rect x="24.00" y="18.00" width="1.55" height="1.55" fill="#dcc898"/><rect x="24.00" y="19.50" width="1.55" height="1.55" fill="#dcc898"/><rect x="24.00" y="21.00" width="1.55" height="1.55" fill="#a08858"/><rect x="24.00" y="22.50" width="1.55" height="1.55" fill="#dcc898"/><rect x="24.00" y="24.00" width="1.55" height="1.55" fill="#5a4a2c"/><rect x="24.00" y="25.50" width="1.55" height="1.55" fill="#b09a68"/><rect x="24.00" y="27.00" width="1.55" height="1.55" fill="#2a2214"/><rect x="24.00" y="28.50" width="1.55" height="1.55" fill="#8a7448"/><rect x="24.00" y="30.00" width="1.55" height="1.55" fill="#b09a68"/><rect x="24.00" y="31.50" width="1.55" height="1.55" fill="#2a2214"/><rect x="24.00" y="33.00" width="1.55" height="1.55" fill="#5a4a2c"/><rect x="24.00" y="34.50" width="1.55" height="1.55" fill="#3a2e1a"/><rect x="25.50" y="0.00" width="1.55" height="1.55" fill="#a08858"/><rect x="25.50" y="1.50" width="1.55" height="1.55" fill="#dcc898"/><rect x="25.50" y="3.00" width="1.55" height="1.55" fill="#8a7448"/><rect x="25.50" y="4.50" width="1.55" height="1.55" fill="#2a2214"/><rect x="25.50" y="6.00" width="1.55" height="1.55" fill="#5a4a2c"/><rect x="25.50" y="7.50" width="1.55" height="1.55" fill="#5a4a2c"/><rect x="25.50" y="9.00" width="1.55" height="1.55" fill="#cdb480"/><rect x="25.50" y="10.50" width="1.55" height="1.55" fill="#5a4a2c"/><rect x="25.50" y="12.00" width="1.55" height="1.55" fill="#b09a68"/><rect x="25.50" y="13.50" width="1.55" height="1.55" fill="#5a4a2c"/><rect x="25.50" y="15.00" width="1.55" height="1.55" fill="#2a2214"/><rect x="25.50" y="16.50" width="1.55" height="1.55" fill="#a08858"/><rect x="25.50" y="18.00" width="1.55" height="1.55" fill="#a08858"/><rect x="25.50" y="19.50" width="1.55" height="1.55" fill="#8a7448"/><rect x="25.50" y="21.00" width="1.55" height="1.55" fill="#b09a68"/><rect x="25.50" y="22.50" width="1.55" height="1.55" fill="#8a7448"/><rect x="25.50" y="24.00" width="1.55" height="1.55" fill="#2a2214"/><rect x="25.50" y="25.50" width="1.55" height="1.55" fill="#a08858"/><rect x="25.50" y="27.00" width="1.55" height="1.55" fill="#b09a68"/><rect x="25.50" y="28.50" width="1.55" height="1.55" fill="#5a4a2c"/><rect x="25.50" y="30.00" width="1.55" height="1.55" fill="#cdb480"/><rect x="25.50" y="31.50" width="1.55" height="1.55" fill="#cdb480"/><rect x="25.50" y="33.00" width="1.55" height="1.55" fill="#cdb480"/><rect x="25.50" y="34.50" width="1.55" height="1.55" fill="#cdb480"/><rect x="27.00" y="0.00" width="1.55" height="1.55" fill="#dcc898"/><rect x="27.00" y="1.50" width="1.55" height="1.55" fill="#cdb480"/><rect x="27.00" y="3.00" width="1.55" height="1.55" fill="#cdb480"/><rect x="27.00" y="4.50" width="1.55" height="1.55" fill="#b09a68"/><rect x="27.00" y="6.00" width="1.55" height="1.55" fill="#a08858"/><rect x="27.00" y="7.50" width="1.55" height="1.55" fill="#b09a68"/><rect x="27.00" y="9.00" width="1.55" height="1.55" fill="#8a7448"/><rect x="27.00" y="10.50" width="1.55" height="1.55" fill="#b09a68"/><rect x="27.00" y="12.00" width="1.55" height="1.55" fill="#b09a68"/><rect x="27.00" y="13.50" width="1.55" height="1.55" fill="#8a7448"/><rect x="27.00" y="15.00" width="1.55" height="1.55" fill="#cdb480"/><rect x="27.00" y="16.50" width="1.55" height="1.55" fill="#b09a68"/><rect x="27.00" y="18.00" width="1.55" height="1.55" fill="#dcc898"/><rect x="27.00" y="19.50" width="1.55" height="1.55" fill="#5a4a2c"/><rect x="27.00" y="21.00" width="1.55" height="1.55" fill="#2a2214"/><rect x="27.00" y="22.50" width="1.55" height="1.55" fill="#cdb480"/><rect x="27.00" y="24.00" width="1.55" height="1.55" fill="#b09a68"/><rect x="27.00" y="25.50" width="1.55" height="1.55" fill="#b09a68"/><rect x="27.00" y="27.00" width="1.55" height="1.55" fill="#5a4a2c"/><rect x="27.00" y="28.50" width="1.55" height="1.55" fill="#a08858"/><rect x="27.00" y="30.00" width="1.55" height="1.55" fill="#3a2e1a"/><rect x="27.00" y="31.50" width="1.55" height="1.55" fill="#5a4a2c"/><rect x="27.00" y="33.00" width="1.55" height="1.55" fill="#3a2e1a"/><rect x="27.00" y="34.50" width="1.55" height="1.55" fill="#a08858"/><rect x="28.50" y="0.00" width="1.55" height="1.55" fill="#b09a68"/><rect x="28.50" y="1.50" width="1.55" height="1.55" fill="#a08858"/><rect x="28.50" y="3.00" width="1.55" height="1.55" fill="#dcc898"/><rect x="28.50" y="4.50" width="1.55" height="1.55" fill="#3a2e1a"/><rect x="28.50" y="6.00" width="1.55" height="1.55" fill="#cdb480"/><rect x="28.50" y="7.50" width="1.55" height="1.55" fill="#b09a68"/><rect x="28.50" y="9.00" width="1.55" height="1.55" fill="#5a4a2c"/><rect x="28.50" y="10.50" width="1.55" height="1.55" fill="#3a2e1a"/><rect x="28.50" y="12.00" width="1.55" height="1.55" fill="#b09a68"/><rect x="28.50" y="13.50" width="1.55" height="1.55" fill="#b09a68"/><rect x="28.50" y="15.00" width="1.55" height="1.55" fill="#5a4a2c"/><rect x="28.50" y="16.50" width="1.55" height="1.55" fill="#dcc898"/><rect x="28.50" y="18.00" width="1.55" height="1.55" fill="#8a7448"/><rect x="28.50" y="19.50" width="1.55" height="1.55" fill="#a08858"/><rect x="28.50" y="21.00" width="1.55" height="1.55" fill="#cdb480"/><rect x="28.50" y="22.50" width="1.55" height="1.55" fill="#3a2e1a"/><rect x="28.50" y="24.00" width="1.55" height="1.55" fill="#5a4a2c"/><rect x="28.50" y="25.50" width="1.55" height="1.55" fill="#dcc898"/><rect x="28.50" y="27.00" width="1.55" height="1.55" fill="#b09a68"/><rect x="28.50" y="28.50" width="1.55" height="1.55" fill="#3a2e1a"/><rect x="28.50" y="30.00" width="1.55" height="1.55" fill="#dcc898"/><rect x="28.50" y="31.50" width="1.55" height="1.55" fill="#dcc898"/><rect x="28.50" y="33.00" width="1.55" height="1.55" fill="#8a7448"/><rect x="28.50" y="34.50" width="1.55" height="1.55" fill="#3a2e1a"/><rect x="30.00" y="0.00" width="1.55" height="1.55" fill="#b09a68"/><rect x="30.00" y="1.50" width="1.55" height="1.55" fill="#cdb480"/><rect x="30.00" y="3.00" width="1.55" height="1.55" fill="#3a2e1a"/><rect x="30.00" y="4.50" width="1.55" height="1.55" fill="#b09a68"/><rect x="30.00" y="6.00" width="1.55" height="1.55" fill="#3a2e1a"/><rect x="30.00" y="7.50" width="1.55" height="1.55" fill="#dcc898"/><rect x="30.00" y="9.00" width="1.55" height="1.55" fill="#2a2214"/><rect x="30.00" y="10.50" width="1.55" height="1.55" fill="#dcc898"/><rect x="30.00" y="12.00" width="1.55" height="1.55" fill="#8a7448"/><rect x="30.00" y="13.50" width="1.55" height="1.55" fill="#cdb480"/><rect x="30.00" y="15.00" width="1.55" height="1.55" fill="#5a4a2c"/><rect x="30.00" y="16.50" width="1.55" height="1.55" fill="#b09a68"/><rect x="30.00" y="18.00" width="1.55" height="1.55" fill="#3a2e1a"/><rect x="30.00" y="19.50" width="1.55" height="1.55" fill="#a08858"/><rect x="30.00" y="21.00" width="1.55" height="1.55" fill="#a08858"/><rect x="30.00" y="22.50" width="1.55" height="1.55" fill="#5a4a2c"/><rect x="30.00" y="24.00" width="1.55" height="1.55" fill="#2a2214"/><rect x="30.00" y="25.50" width="1.55" height="1.55" fill="#5a4a2c"/><rect x="30.00" y="27.00" width="1.55" height="1.55" fill="#2a2214"/><rect x="30.00" y="28.50" width="1.55" height="1.55" fill="#8a7448"/><rect x="30.00" y="30.00" width="1.55" height="1.55" fill="#5a4a2c"/><rect x="30.00" y="31.50" width="1.55" height="1.55" fill="#8a7448"/><rect x="30.00" y="33.00" width="1.55" height="1.55" fill="#2a2214"/><rect x="30.00" y="34.50" width="1.55" height="1.55" fill="#cdb480"/><rect x="31.50" y="0.00" width="1.55" height="1.55" fill="#2a2214"/><rect x="31.50" y="1.50" width="1.55" height="1.55" fill="#cdb480"/><rect x="31.50" y="3.00" width="1.55" height="1.55" fill="#cdb480"/><rect x="31.50" y="4.50" width="1.55" height="1.55" fill="#2a2214"/><rect x="31.50" y="6.00" width="1.55" height="1.55" fill="#3a2e1a"/><rect x="31.50" y="7.50" width="1.55" height="1.55" fill="#cdb480"/><rect x="31.50" y="9.00" width="1.55" height="1.55" fill="#dcc898"/><rect x="31.50" y="10.50" width="1.55" height="1.55" fill="#2a2214"/><rect x="31.50" y="12.00" width="1.55" height="1.55" fill="#2a2214"/><rect x="31.50" y="13.50" width="1.55" height="1.55" fill="#3a2e1a"/><rect x="31.50" y="15.00" width="1.55" height="1.55" fill="#dcc898"/><rect x="31.50" y="16.50" width="1.55" height="1.55" fill="#b09a68"/><rect x="31.50" y="18.00" width="1.55" height="1.55" fill="#2a2214"/><rect x="31.50" y="19.50" width="1.55" height="1.55" fill="#2a2214"/><rect x="31.50" y="21.00" width="1.55" height="1.55" fill="#b09a68"/><rect x="31.50" y="22.50" width="1.55" height="1.55" fill="#3a2e1a"/><rect x="31.50" y="24.00" width="1.55" height="1.55" fill="#2a2214"/><rect x="31.50" y="25.50" width="1.55" height="1.55" fill="#8a7448"/><rect x="31.50" y="27.00" width="1.55" height="1.55" fill="#2a2214"/><rect x="31.50" y="28.50" width="1.55" height="1.55" fill="#5a4a2c"/><rect x="31.50" y="30.00" width="1.55" height="1.55" fill="#5a4a2c"/><rect x="31.50" y="31.50" width="1.55" height="1.55" fill="#2a2214"/><rect x="31.50" y="33.00" width="1.55" height="1.55" fill="#dcc898"/><rect x="31.50" y="34.50" width="1.55" height="1.55" fill="#a08858"/><rect x="33.00" y="0.00" width="1.55" height="1.55" fill="#8a7448"/><rect x="33.00" y="1.50" width="1.55" height="1.55" fill="#8a7448"/><rect x="33.00" y="3.00" width="1.55" height="1.55" fill="#3a2e1a"/><rect x="33.00" y="4.50" width="1.55" height="1.55" fill="#3a2e1a"/><rect x="33.00" y="6.00" width="1.55" height="1.55" fill="#8a7448"/><rect x="33.00" y="7.50" width="1.55" height="1.55" fill="#2a2214"/><rect x="33.00" y="9.00" width="1.55" height="1.55" fill="#5a4a2c"/><rect x="33.00" y="10.50" width="1.55" height="1.55" fill="#dcc898"/><rect x="33.00" y="12.00" width="1.55" height="1.55" fill="#8a7448"/><rect x="33.00" y="13.50" width="1.55" height="1.55" fill="#8a7448"/><rect x="33.00" y="15.00" width="1.55" height="1.55" fill="#dcc898"/><rect x="33.00" y="16.50" width="1.55" height="1.55" fill="#cdb480"/><rect x="33.00" y="18.00" width="1.55" height="1.55" fill="#8a7448"/><rect x="33.00" y="19.50" width="1.55" height="1.55" fill="#8a7448"/><rect x="33.00" y="21.00" width="1.55" height="1.55" fill="#5a4a2c"/><rect x="33.00" y="22.50" width="1.55" height="1.55" fill="#5a4a2c"/><rect x="33.00" y="24.00" width="1.55" height="1.55" fill="#2a2214"/><rect x="33.00" y="25.50" width="1.55" height="1.55" fill="#a08858"/><rect x="33.00" y="27.00" width="1.55" height="1.55" fill="#b09a68"/><rect x="33.00" y="28.50" width="1.55" height="1.55" fill="#cdb480"/><rect x="33.00" y="30.00" width="1.55" height="1.55" fill="#8a7448"/><rect x="33.00" y="31.50" width="1.55" height="1.55" fill="#3a2e1a"/><rect x="33.00" y="33.00" width="1.55" height="1.55" fill="#a08858"/><rect x="33.00" y="34.50" width="1.55" height="1.55" fill="#dcc898"/><rect x="34.50" y="0.00" width="1.55" height="1.55" fill="#3a2e1a"/><rect x="34.50" y="1.50" width="1.55" height="1.55" fill="#2a2214"/><rect x="34.50" y="3.00" width="1.55" height="1.55" fill="#5a4a2c"/><rect x="34.50" y="4.50" width="1.55" height="1.55" fill="#8a7448"/><rect x="34.50" y="6.00" width="1.55" height="1.55" fill="#b09a68"/><rect x="34.50" y="7.50" width="1.55" height="1.55" fill="#2a2214"/><rect x="34.50" y="9.00" width="1.55" height="1.55" fill="#b09a68"/><rect x="34.50" y="10.50" width="1.55" height="1.55" fill="#a08858"/><rect x="34.50" y="12.00" width="1.55" height="1.55" fill="#8a7448"/><rect x="34.50" y="13.50" width="1.55" height="1.55" fill="#b09a68"/><rect x="34.50" y="15.00" width="1.55" height="1.55" fill="#3a2e1a"/><rect x="34.50" y="16.50" width="1.55" height="1.55" fill="#2a2214"/><rect x="34.50" y="18.00" width="1.55" height="1.55" fill="#8a7448"/><rect x="34.50" y="19.50" width="1.55" height="1.55" fill="#2a2214"/><rect x="34.50" y="21.00" width="1.55" height="1.55" fill="#dcc898"/><rect x="34.50" y="22.50" width="1.55" height="1.55" fill="#5a4a2c"/><rect x="34.50" y="24.00" width="1.55" height="1.55" fill="#8a7448"/><rect x="34.50" y="25.50" width="1.55" height="1.55" fill="#b09a68"/><rect x="34.50" y="27.00" width="1.55" height="1.55" fill="#b09a68"/><rect x="34.50" y="28.50" width="1.55" height="1.55" fill="#3a2e1a"/><rect x="34.50" y="30.00" width="1.55" height="1.55" fill="#3a2e1a"/><rect x="34.50" y="31.50" width="1.55" height="1.55" fill="#dcc898"/><rect x="34.50" y="33.00" width="1.55" height="1.55" fill="#5a4a2c"/><rect x="34.50" y="34.50" width="1.55" height="1.55" fill="#2a2214"/></pattern>
<pattern id="whitesp" width="8" height="8" patternUnits="userSpaceOnUse"><rect width="8" height="8" fill="#eeeeee"/><rect x="3.65" y="6.79" width="1.0" height="1.0" fill="#cfcfcf"/><rect x="3.36" y="4.66" width="1.2" height="1.2" fill="#cfcfcf"/><rect x="5.27" y="3.57" width="1.2" height="1.2" fill="#ffffff"/><rect x="0.19" y="4.95" width="1.2" height="1.2" fill="#d8d8d8"/><rect x="1.88" y="6.11" width="1.2" height="1.2" fill="#ffffff"/><rect x="6.48" y="3.20" width="0.6" height="0.6" fill="#d8d8d8"/><rect x="2.87" y="2.92" width="1.2" height="1.2" fill="#d8d8d8"/><rect x="4.08" y="0.33" width="0.8" height="0.8" fill="#cfcfcf"/><rect x="7.38" y="2.51" width="0.6" height="0.6" fill="#d8d8d8"/><rect x="6.02" y="7.16" width="0.8" height="0.8" fill="#d8d8d8"/><rect x="6.86" y="7.97" width="0.6" height="0.6" fill="#d8d8d8"/><rect x="1.05" y="7.09" width="1.0" height="1.0" fill="#d8d8d8"/><rect x="5.49" y="5.77" width="0.8" height="0.8" fill="#d8d8d8"/><rect x="6.66" y="4.88" width="1.0" height="1.0" fill="#d8d8d8"/><rect x="2.59" y="4.91" width="1.2" height="1.2" fill="#d8d8d8"/><rect x="2.03" y="7.71" width="1.2" height="1.2" fill="#d8d8d8"/><rect x="4.74" y="4.93" width="0.8" height="0.8" fill="#d8d8d8"/><rect x="2.98" y="1.59" width="1.2" height="1.2" fill="#ffffff"/><rect x="5.09" y="2.23" width="1.0" height="1.0" fill="#d8d8d8"/><rect x="1.35" y="6.28" width="0.6" height="0.6" fill="#ffffff"/><rect x="0.39" y="6.87" width="1.2" height="1.2" fill="#cfcfcf"/><rect x="4.17" y="5.51" width="0.6" height="0.6" fill="#cfcfcf"/><rect x="7.94" y="5.04" width="1.2" height="1.2" fill="#ffffff"/><rect x="6.38" y="2.12" width="1.0" height="1.0" fill="#cfcfcf"/><rect x="1.17" y="2.65" width="0.6" height="0.6" fill="#cfcfcf"/><rect x="1.84" y="4.92" width="0.6" height="0.6" fill="#ffffff"/><rect x="6.56" y="2.03" width="1.0" height="1.0" fill="#ffffff"/><rect x="0.01" y="0.27" width="0.8" height="0.8" fill="#cfcfcf"/><rect x="4.93" y="3.46" width="1.0" height="1.0" fill="#ffffff"/><rect x="1.06" y="1.82" width="0.6" height="0.6" fill="#d8d8d8"/></pattern>
<pattern id="fabtop" width="6" height="6" patternUnits="userSpaceOnUse"><rect width="6" height="6" fill="#eeeae3"/><rect x="0.33" y="3.40" width="1.0" height="1.0" fill="#e4dfd6"/><rect x="3.14" y="3.20" width="1.2" height="1.2" fill="#e4dfd6"/><rect x="1.81" y="0.80" width="1.0" height="1.0" fill="#e8e3db"/><rect x="4.97" y="0.95" width="0.6" height="0.6" fill="#e8e3db"/><rect x="4.24" y="2.71" width="0.6" height="0.6" fill="#e4dfd6"/><rect x="0.87" y="3.99" width="1.0" height="1.0" fill="#e8e3db"/><rect x="4.87" y="5.80" width="0.6" height="0.6" fill="#f6f3ee"/><rect x="4.93" y="5.36" width="1.2" height="1.2" fill="#e8e3db"/><rect x="5.62" y="4.40" width="0.8" height="0.8" fill="#e8e3db"/><rect x="5.42" y="0.26" width="0.6" height="0.6" fill="#e4dfd6"/></pattern>
<pattern id="fabfront" width="4" height="4" patternUnits="userSpaceOnUse"><rect width="4" height="4" fill="#d9d1c6"/><rect x="0.74" y="0.64" width="0.6" height="0.6" fill="#e3dcd2"/><rect x="2.45" y="2.63" width="0.8" height="0.8" fill="#cfc6ba"/><rect x="1.65" y="2.07" width="1.2" height="1.2" fill="#cfc6ba"/><rect x="0.70" y="1.24" width="1.0" height="1.0" fill="#c9c0b4"/><rect x="0.19" y="3.56" width="1.2" height="1.2" fill="#c9c0b4"/><rect x="2.15" y="1.50" width="1.2" height="1.2" fill="#c9c0b4"/></pattern>
<radialGradient id="shadow" cx="0.5" cy="0.5" r="0.5"><stop offset="0" stop-color="#9a958e" stop-opacity="0.9"/><stop offset="1" stop-color="#9a958e" stop-opacity="0"/></radialGradient>
<radialGradient id="glow" cx="0.5" cy="0.5" r="0.5"><stop offset="0.4" stop-color="#c8c090" stop-opacity="0.7"/><stop offset="1" stop-color="#e8e4c8" stop-opacity="0"/></radialGradient>
<linearGradient id="pressg" x1="0" y1="0" x2="0" y2="1"><stop offset="0" stop-color="#d0d0d0"/><stop offset="1" stop-color="#606060"/></linearGradient>
</defs>
<text x="1.60" y="13.30" font-size="16.5" text-anchor="start" font-weight="bold" fill="#111" >(a)</text>
<path d="M34,1.6 H336.6 V147.9 H16.5 V24" stroke="#2a2a2a" stroke-width="1.3" stroke-dasharray="4.6,4.2" fill="none"/>
<polygon points="17,82.3 192,82.3 236.8,132.6 17,132.6" fill="url(#fabtop)"/>
<linearGradient id="fshade" x1="0" y1="0" x2="0" y2="1"><stop offset="0" stop-color="#a8a49e" stop-opacity="0.45"/><stop offset="1" stop-color="#a8a49e" stop-opacity="0"/></linearGradient>
<polygon points="17,99.6 200,99.6 210,113 17,113" fill="url(#fshade)"/>
<ellipse cx="172" cy="113.5" rx="22" ry="8.5" fill="url(#shadow)" opacity="0.85"/>
<ellipse cx="125" cy="106" rx="30" ry="6" fill="url(#shadow)" opacity="0.3"/>
<rect x="17" y="132.6" width="219.8" height="8.4" fill="url(#fabfront)"/>
<polygon points="17,68.7 167.9,68.7 171.3,76.1 148.6,76.1 148.6,72.4 137.4,72.4 137.4,76.1 17,76.1" fill="#858585"/>
<rect x="17" y="76.1" width="78.6" height="10" fill="#858585"/>
<rect x="17" y="70.9" width="120" height="0.8" fill="#a9a9a9"/>
<rect x="17" y="75.6" width="78" height="0.8" fill="#a9a9a9"/>
<rect x="17" y="80.9" width="76" height="0.8" fill="#a9a9a9"/>
<polygon points="17,86.2 139,86.2 139,93.3 154.2,93.3 154.2,86.9 182.2,86.9 188.3,99.6 17,99.6" fill="#7f7f7f"/>
<rect x="17" y="92.4" width="122" height="1.0" fill="#a9a9a9"/>
<rect x="117" y="87.5" width="21" height="2" fill="#5a6aa0" opacity="0.5"/>
<rect x="80" y="95" width="14" height="2" fill="#6a5aa8" opacity="0.5"/>
<rect x="114" y="94.5" width="22" height="2" fill="#5a70b0" opacity="0.5"/>
<polygon points="17,28 143.9,28 154.6,38.4 17,38.4" fill="#d0dfe8"/>
<polygon points="17,37 153.2,37 154.6,38.6 17,38.6" fill="#a6d2f2"/>
<polygon points="118.5,35 136.5,35 138,37.3 117,37.3" fill="#6aa8ee"/>
<rect x="80.4" y="36.5" width="14.6" height="1.1" fill="#8a86ee"/>
<polygon points="80.4,51.8 95.8,51.8 92.2,56.4 77.2,56.4" fill="#7d5cf6"/>
<polygon points="77.2,56.4 92.2,56.4 91.4,58.2 75.8,58.2" fill="#5534dc"/>
<polygon points="117.4,48.9 138.1,48.9 140.3,58.7 114,58.7" fill="#4a8fe8"/>
<rect x="114" y="58.7" width="26.3" height="3.4" fill="#2c7ce0"/>
<polyline points="98,13 116.5,13 116.5,30.2" stroke="#000" stroke-width="1.1" fill="none"/>
<circle cx="116.5" cy="30.2" r="2.2" fill="#000"/>
<polyline points="86.3,51 86.3,42.6 186.5,42.6 186.5,17 194.8,17" stroke="#000" stroke-width="1.1" fill="none"/>
<circle cx="86.3" cy="51" r="2.2" fill="#000"/>
<line x1="128.6" y1="53.6" x2="191" y2="53.6" stroke="#000" stroke-width="1.1"/>
<circle cx="128.6" cy="53.6" r="2.2" fill="#000"/>
<line x1="166.5" y1="91.4" x2="190.8" y2="91.4" stroke="#000" stroke-width="1.1"/>
<circle cx="166.5" cy="91.4" r="2.2" fill="#000"/>
<text x="31.50" y="18.00" font-size="13" text-anchor="start" font-weight="bold" fill="#111" >Tegaderm</text>
<text x="197.50" y="23.00" font-size="13.3" text-anchor="start" font-weight="bold" fill="#111" >Temperature sensor</text>
<text x="197.50" y="55.50" font-size="13.3" text-anchor="start" font-weight="bold" fill="#111" >Pressure sensor</text>
<text x="198.50" y="90.50" font-size="13.3" text-anchor="start" font-weight="bold" fill="#111" >AgNW electrodes</text>
<text x="198.50" y="106.00" font-size="13.3" text-anchor="start" font-weight="bold" fill="#111" >pair / interconnect</text>
<text x="88.00" y="128.90" font-size="13.2" text-anchor="start" font-weight="bold" fill="#111" >Fabric</text>
<text x="345.80" y="13.30" font-size="16.5" text-anchor="start" font-weight="bold" fill="#111" >(b)</text>
<rect x="363" y="68" width="94" height="20" fill="#fbd2b3"/>
<rect x="363" y="54" width="94" height="14.5" fill="#f2cbb2"/>
<rect x="363" y="54" width="93.4" height="3.200000000000003" rx="1.2" fill="#a08e92"/>
<rect x="363" y="57.9" width="16.4" height="2.700000000000003" rx="1.2" fill="#a08e92"/>
<rect x="381" y="57.9" width="58.4" height="2.700000000000003" rx="1.2" fill="#a08e92"/>
<rect x="441" y="57.9" width="15.4" height="2.700000000000003" rx="1.2" fill="#a08e92"/>
<rect x="363" y="61.3" width="28.4" height="2.9000000000000057" rx="1.2" fill="#a08e92"/>
<rect x="393" y="61.3" width="34.4" height="2.9000000000000057" rx="1.2" fill="#a08e92"/>
<rect x="429" y="61.3" width="27.4" height="2.9000000000000057" rx="1.2" fill="#a08e92"/>
<rect x="363" y="64.9" width="20.4" height="2.8999999999999915" rx="1.2" fill="#a08e92"/>
<rect x="385" y="64.9" width="45.4" height="3.299999999999997" rx="1.2" fill="#a08e92"/>
<rect x="432" y="64.9" width="24.4" height="2.8999999999999915" rx="1.2" fill="#a08e92"/>
<rect x="363" y="55.6" width="13" height="0.7" fill="#c9bcbf"/>
<rect x="436" y="55.2" width="21" height="0.7" fill="#c9bcbf"/>
<rect x="363" y="59.2" width="9" height="0.7" fill="#c9bcbf"/>
<rect x="445" y="62.8" width="12" height="0.7" fill="#c9bcbf"/>
<rect x="363" y="66.3" width="7" height="0.7" fill="#c9bcbf"/>
<rect x="363" y="88" width="94" height="17" fill="#f8a6a6"/>
<rect x="374.2" y="41.6" width="28" height="12.6" fill="url(#brown)"/>
<rect x="421" y="41.6" width="28" height="12.6" fill="url(#brown)"/>
<line x1="383.8" y1="41.6" x2="394.5" y2="30" stroke="#000" stroke-width="0.9"/>
<line x1="430.5" y1="40.8" x2="420.5" y2="30" stroke="#000" stroke-width="0.9"/>
<circle cx="383.8" cy="41.6" r="2.1" fill="#000"/>
<circle cx="430.5" cy="40.8" r="2.1" fill="#000"/>
<text x="373.00" y="26.30" font-size="9.3" text-anchor="start" font-weight="bold" fill="#111" >AgNW Electrode</text>
<text x="412.50" y="65.00" font-size="9.4" text-anchor="middle" font-weight="bold" fill="#fff" >Dead tissues</text>
<text x="413.00" y="81.70" font-size="9.4" text-anchor="middle" font-weight="bold" fill="#222" >Epidermis</text>
<text x="412.50" y="98.20" font-size="9.4" text-anchor="middle" font-weight="bold" fill="#222" >Dermis</text>
<rect x="484" y="18" width="86" height="48.5" fill="#fdfdfd"/>
<path d="M486.5,23.5 C489,28 492,33 491.5,37 C491,41 489,45 487.5,48" stroke="#c4cfdc" stroke-width="2.6" fill="none" stroke-linecap="round"/>
<path d="M499.5,35 C497,38 495,42 491,44.5 C489.5,45.5 488.5,46 488,46" stroke="#c4cfdc" stroke-width="2.6" fill="none" stroke-linecap="round"/>
<path d="M514,25 C516,23.5 519,22.5 522,22.8 C525,23 527,23.5 529,24" stroke="#c4cfdc" stroke-width="2.6" fill="none" stroke-linecap="round"/>
<path d="M512,49 C517,47.5 523,48 528,49" stroke="#c4cfdc" stroke-width="2.6" fill="none" stroke-linecap="round"/>
<path d="M497,49 C501,51 505,54 508,55" stroke="#c4cfdc" stroke-width="2.6" fill="none" stroke-linecap="round"/>
<path d="M485,58 C489,57 493,56 496,56" stroke="#c4cfdc" stroke-width="2.6" fill="none" stroke-linecap="round"/>
<path d="M565,26 C563,33 560,40 559,45 C558,50 556,54 555,56" stroke="#c4cfdc" stroke-width="2.6" fill="none" stroke-linecap="round"/>
<path d="M535,29 C542,29.5 550,30.5 558,31" stroke="#c4cfdc" stroke-width="2.6" fill="none" stroke-linecap="round"/>
<path d="M558,45 C561,45 564,45.5 566,46" stroke="#c4cfdc" stroke-width="2.6" fill="none" stroke-linecap="round"/>
<path d="M529,63 C534,62 539,61 543,60" stroke="#c4cfdc" stroke-width="2.6" fill="none" stroke-linecap="round"/>
<path d="M520,30 C521,38 520,44 521,48" stroke="#c4cfdc" stroke-width="2.6" fill="none" stroke-linecap="round"/>
<path d="M491,34 C492,38 492.5,40 493,41 C495,44 498,46 500,46 C503,47 505,47 507,47" stroke="#46567a" stroke-width="1.2" fill="none" stroke-linecap="round"/>
<path d="M500,34.5 C503,35 505,35.5 505.5,36 C507,38 507,40 507,42 C507.5,45 508,47 508.5,49 C509,52 509.5,55 510,58" stroke="#46567a" stroke-width="1.2" fill="none" stroke-linecap="round"/>
<path d="M513,52 C516,50.5 519,49.5 522,49 C524,49 526,49.5 528,50" stroke="#46567a" stroke-width="1.2" fill="none" stroke-linecap="round"/>
<path d="M515,25.5 C516,24.5 517,23.5 518,23" stroke="#46567a" stroke-width="1.2" fill="none" stroke-linecap="round"/>
<path d="M499,58 C501,60 503,61.5 505,63" stroke="#46567a" stroke-width="1.2" fill="none" stroke-linecap="round"/>
<path d="M520,22.5 C528,23 538,24 545,27" stroke="#46567a" stroke-width="1.2" fill="none" stroke-linecap="round"/>
<path d="M529,36 C530,40 530.5,44 531,46 C532,49 533,50.5 535,51 C538,52 541,52 545,52" stroke="#46567a" stroke-width="1.2" fill="none" stroke-linecap="round"/>
<path d="M539,60 C542,61 546,62 549,62 C551,61.5 553,59 554,57" stroke="#46567a" stroke-width="1.2" fill="none" stroke-linecap="round"/>
<line x1="488.2" y1="30.3" x2="569.2" y2="38.4" stroke="#5a5a5a" stroke-width="1.2"/>
<line x1="486.8" y1="66.5" x2="542.2" y2="23" stroke="#5a5a5a" stroke-width="1.2"/>
<line x1="501" y1="64" x2="567" y2="43.5" stroke="#5a5a5a" stroke-width="1.2"/>
<line x1="487.5" y1="48" x2="499.5" y2="52" stroke="#5a5a5a" stroke-width="1.2"/>
<line x1="520.3" y1="63" x2="535" y2="66" stroke="#5a5a5a" stroke-width="1.2"/>
<polygon points="507.9,28.767999999999997 511.93199999999996,32.8 507.9,36.832 503.868,32.8" fill="#8a7638"/>
<circle cx="507.9" cy="32.8" r="1.45" fill="#ece6d2"/>
<polygon points="512.6,37.967999999999996 516.6320000000001,42 512.6,46.032000000000004 508.56800000000004,42" fill="#8a7638"/>
<circle cx="512.6" cy="42" r="1.45" fill="#ece6d2"/>
<polygon points="529.4,22.668 533.432,26.7 529.4,30.732 525.3679999999999,26.7" fill="#8a7638"/>
<circle cx="529.4" cy="26.7" r="1.45" fill="#ece6d2"/>
<polygon points="545.4,36.967999999999996 549.432,41 545.4,45.032000000000004 541.3679999999999,41" fill="#8a7638"/>
<circle cx="545.4" cy="41" r="1.45" fill="#ece6d2"/>
<polygon points="559.8,30.668000000000003 563.832,34.7 559.8,38.732000000000006 555.7679999999999,34.7" fill="#8a7638"/>
<circle cx="559.8" cy="34.7" r="1.45" fill="#ece6d2"/>
<polygon points="489.7,49.168 493.73199999999997,53.2 489.7,57.232000000000006 485.668,53.2" fill="#8a7638"/>
<circle cx="489.7" cy="53.2" r="1.45" fill="#ece6d2"/>
<polygon points="511.3,55.967999999999996 515.332,60 511.3,64.032 507.26800000000003,60" fill="#8a7638"/>
<circle cx="511.3" cy="60" r="1.45" fill="#ece6d2"/>
<polygon points="527.6,50.068 531.6320000000001,54.1 527.6,58.132000000000005 523.568,54.1" fill="#8a7638"/>
<circle cx="527.6" cy="54.1" r="1.45" fill="#ece6d2"/>
<polygon points="556.5,48.668 560.532,52.7 556.5,56.732000000000006 552.468,52.7" fill="#8a7638"/>
<circle cx="556.5" cy="52.7" r="1.45" fill="#ece6d2"/>
<rect x="517.4" y="34.7" width="11" height="11" fill="none" stroke="#f08a8a" stroke-width="0.7"/>
<line x1="517.4" y1="45.7" x2="483.1" y2="66.8" stroke="#f08a8a" stroke-width="0.7"/>
<line x1="528.4" y1="45.7" x2="571.4" y2="66.8" stroke="#f08a8a" stroke-width="0.7"/>
<line x1="489" y1="28.1" x2="494.90" y2="28.10" stroke="#e82020" stroke-width="0.9"/>
<polygon points="497.5,28.1 494.90,29.40 494.90,26.80" fill="#e82020"/>
<line x1="535" y1="29.6" x2="547.90" y2="29.60" stroke="#e82020" stroke-width="0.9"/>
<polygon points="550.5,29.6 547.90,30.90 547.90,28.30" fill="#e82020"/>
<line x1="536" y1="24.5" x2="536.77" y2="20.84" stroke="#e82020" stroke-width="0.9"/>
<polygon points="537.3,18.3 538.04,21.11 535.49,20.58" fill="#e82020"/>
<text x="520.50" y="15.50" font-size="8.2" text-anchor="start" font-weight="bold" fill="#111" >PEDOT</text>
<text x="497.00" y="27.60" font-size="8.0" text-anchor="start" font-weight="bold" fill="#111" >PSS</text>
<text x="551.00" y="27.60" font-size="8.2" text-anchor="start" font-weight="bold" fill="#111" >MWCNT</text>
<rect x="483.1" y="66.8" width="88.3" height="40.2" fill="#fff" stroke="#f08a8a" stroke-width="0.8"/>
<path d="M484.7,90.2 C489,97 497,102 508.9,101.6 C515,101 517,95 520,92.5 C526,86 533,81 542.4,79.4 C550,78.5 560,83 565.3,92.9 C566.5,97 563,101 560,102.3" stroke="#c6d0dc" stroke-width="3.2" fill="none" stroke-linecap="round"/>
<path d="M489,98.5 C495,103 502,104 509.5,103" stroke="#46567a" stroke-width="1.3" fill="none" stroke-linecap="round"/>
<path d="M561.5,85 C566,89 567.5,95 565,100" stroke="#46567a" stroke-width="1.3" fill="none" stroke-linecap="round"/>
<line x1="516.2" y1="98.2" x2="558.5" y2="78.1" stroke="#5e5e5e" stroke-width="2"/>
<circle cx="505.5" cy="76.1" r="6.5" fill="url(#glow)"/>
<polygon points="505.5,72.068 509.532,76.1 505.5,80.13199999999999 501.468,76.1" fill="#8a7638"/>
<circle cx="505.5" cy="76.1" r="1.45" fill="#ece6d2"/>
<circle cx="501.9" cy="86.1" r="6.5" fill="url(#glow)"/>
<polygon points="501.9,82.068 505.93199999999996,86.1 501.9,90.13199999999999 497.868,86.1" fill="#8a7638"/>
<circle cx="501.9" cy="86.1" r="1.45" fill="#ece6d2"/>
<circle cx="510.5" cy="93.5" r="6.5" fill="url(#glow)"/>
<polygon points="510.5,89.468 514.532,93.5 510.5,97.532 506.468,93.5" fill="#8a7638"/>
<circle cx="510.5" cy="93.5" r="1.45" fill="#ece6d2"/>
<circle cx="540.8" cy="84.5" r="6.5" fill="url(#glow)"/>
<polygon points="540.8,80.468 544.832,84.5 540.8,88.532 536.7679999999999,84.5" fill="#8a7638"/>
<circle cx="540.8" cy="84.5" r="1.45" fill="#ece6d2"/>
<path d="M533.2,74.6 C528,70.6 521.5,71.4 518,75" stroke="#2038e8" stroke-width="1.5" fill="none"/>
<polygon points="515.3,78.3 516.2,73.2 520.4,76.4" fill="#2038e8"/>
<path d="M520.3,87.8 C523,87.8 524.3,86 524.8,80 C525.1,76 525.4,74.9 525.7,74.9 C526,74.9 526.3,76 526.6,80 C527.1,86 528.4,87.8 531,87.8" stroke="#2038e8" stroke-width="1.8" fill="none"/>
<text x="533.50" y="75.50" font-size="7.7" text-anchor="start" font-weight="bold" fill="#2030e0" >Hopping</text>
<rect x="581" y="65.5" width="99.5" height="12.9" fill="url(#burlap)"/>
<rect x="615" y="65.5" width="31" height="12.9" fill="url(#whitesp)"/>
<rect x="600.5" y="50" width="63.5" height="12" fill="url(#burlap)"/>
<rect x="618" y="25" width="27.7" height="10" fill="#262626"/>
<rect x="618" y="25" width="27.7" height="2.2" fill="url(#pressg)"/>
<polygon points="605,34.6 659.7,34.6 632.6,43" fill="#262626"/>
<text x="632.00" y="34.20" font-size="8.0" text-anchor="middle" font-weight="normal" fill="#fff" >Press</text>
<polyline points="607.90,58.00 607.90,49.60 622.90,49.60 623.80,45.60 625.50,52.00 627.60,45.60 629.40,52.00 631.40,45.60 633.30,52.00 635.30,45.60 637.20,52.00 638.80,46.50 639.90,49.60 658.00,49.60 658.00,58.00" stroke="#000" stroke-width="1.4" fill="none" stroke-linejoin="round"/>
<polyline points="607.90,57.00 605.30,59.29 610.50,61.86 605.30,64.43 610.50,67.00 605.30,69.57 610.50,72.14 605.30,74.71 607.90,76.00 607.90,81.00" stroke="#000" stroke-width="1.4" fill="none" stroke-linejoin="round"/>
<polyline points="658.00,57.00 655.40,59.29 660.60,61.86 655.40,64.43 660.60,67.00 655.40,69.57 660.60,72.14 655.40,74.71 658.00,76.00 658.00,81.00" stroke="#000" stroke-width="1.4" fill="none" stroke-linejoin="round"/>
<line x1="595" y1="76.7" x2="618.00" y2="57.45" stroke="#f01010" stroke-width="1.7"/>
<polygon points="622.6,53.6 619.92,59.75 616.07,55.15" fill="#f01010"/>
<line x1="644.8" y1="76.1" x2="665.95" y2="57.91" stroke="#f01010" stroke-width="1.7"/>
<polygon points="670.5,54 667.91,60.19 663.99,55.64" fill="#f01010"/>
<line x1="600.8" y1="80.5" x2="608" y2="91.5" stroke="#000" stroke-width="0.9"/>
<line x1="663" y1="80.5" x2="655" y2="91.5" stroke="#000" stroke-width="0.9"/>
<circle cx="600.8" cy="80.5" r="2.1" fill="#000"/>
<circle cx="663" cy="80.5" r="2.1" fill="#000"/>
<text x="596.00" y="100.00" font-size="9.3" text-anchor="start" font-weight="bold" fill="#111" >AgNW Electrode</text>
<text x="411.75" y="123.00" font-size="10.5" text-anchor="middle" font-weight="bold" fill="#262626" textLength="91.5" lengthAdjust="spacingAndGlyphs">Impedance sensor</text>
<text x="412.20" y="135.00" font-size="10.5" text-anchor="middle" font-weight="bold" fill="#262626" textLength="74.3" lengthAdjust="spacingAndGlyphs">(AgNW/fabric)</text>
<text x="528.85" y="123.10" font-size="10.5" text-anchor="middle" font-weight="bold" fill="#262626" textLength="102" lengthAdjust="spacingAndGlyphs">Temperature sensor</text>
<text x="528.35" y="134.80" font-size="10.5" text-anchor="middle" font-weight="bold" fill="#262626" textLength="110.5" lengthAdjust="spacingAndGlyphs">(PEDOT:PSS/MWCNT)</text>
<text x="635.05" y="123.00" font-size="10.5" text-anchor="middle" font-weight="bold" fill="#262626" textLength="79" lengthAdjust="spacingAndGlyphs">Pressure sensor</text>
<text x="634.45" y="134.80" font-size="10.5" text-anchor="middle" font-weight="bold" fill="#262626" textLength="73" lengthAdjust="spacingAndGlyphs">(AgNW/fabric)</text>
<text x="0.60" y="173.20" font-size="16.5" text-anchor="start" font-weight="bold" fill="#111" >(c)</text>
<line x1="39.50" y1="312.60" x2="221.00" y2="179.30" stroke="#222" stroke-width="0.8" />
<line x1="39.50" y1="312.60" x2="39.50" y2="315.60" stroke="#4a4a4a" stroke-width="0.8" />
<line x1="39.50" y1="312.60" x2="36.50" y2="312.60" stroke="#4a4a4a" stroke-width="0.8" />
<line x1="50.43" y1="312.60" x2="50.43" y2="314.20" stroke="#4a4a4a" stroke-width="0.8" />
<line x1="39.50" y1="304.57" x2="37.90" y2="304.57" stroke="#4a4a4a" stroke-width="0.8" />
<line x1="56.82" y1="312.60" x2="56.82" y2="314.20" stroke="#4a4a4a" stroke-width="0.8" />
<line x1="39.50" y1="299.88" x2="37.90" y2="299.88" stroke="#4a4a4a" stroke-width="0.8" />
<line x1="61.35" y1="312.60" x2="61.35" y2="314.20" stroke="#4a4a4a" stroke-width="0.8" />
<line x1="39.50" y1="296.55" x2="37.90" y2="296.55" stroke="#4a4a4a" stroke-width="0.8" />
<line x1="64.87" y1="312.60" x2="64.87" y2="314.20" stroke="#4a4a4a" stroke-width="0.8" />
<line x1="39.50" y1="293.97" x2="37.90" y2="293.97" stroke="#4a4a4a" stroke-width="0.8" />
<line x1="67.75" y1="312.60" x2="67.75" y2="314.20" stroke="#4a4a4a" stroke-width="0.8" />
<line x1="39.50" y1="291.85" x2="37.90" y2="291.85" stroke="#4a4a4a" stroke-width="0.8" />
<line x1="70.18" y1="312.60" x2="70.18" y2="314.20" stroke="#4a4a4a" stroke-width="0.8" />
<line x1="39.50" y1="290.07" x2="37.90" y2="290.07" stroke="#4a4a4a" stroke-width="0.8" />
<line x1="72.28" y1="312.60" x2="72.28" y2="314.20" stroke="#4a4a4a" stroke-width="0.8" />
<line x1="39.50" y1="288.52" x2="37.90" y2="288.52" stroke="#4a4a4a" stroke-width="0.8" />
<line x1="74.14" y1="312.60" x2="74.14" y2="314.20" stroke="#4a4a4a" stroke-width="0.8" />
<line x1="39.50" y1="287.16" x2="37.90" y2="287.16" stroke="#4a4a4a" stroke-width="0.8" />
<line x1="75.80" y1="312.60" x2="75.80" y2="315.60" stroke="#4a4a4a" stroke-width="0.8" />
<line x1="39.50" y1="285.94" x2="36.50" y2="285.94" stroke="#4a4a4a" stroke-width="0.8" />
<line x1="86.73" y1="312.60" x2="86.73" y2="314.20" stroke="#4a4a4a" stroke-width="0.8" />
<line x1="39.50" y1="277.91" x2="37.90" y2="277.91" stroke="#4a4a4a" stroke-width="0.8" />
<line x1="93.12" y1="312.60" x2="93.12" y2="314.20" stroke="#4a4a4a" stroke-width="0.8" />
<line x1="39.50" y1="273.22" x2="37.90" y2="273.22" stroke="#4a4a4a" stroke-width="0.8" />
<line x1="97.65" y1="312.60" x2="97.65" y2="314.20" stroke="#4a4a4a" stroke-width="0.8" />
<line x1="39.50" y1="269.89" x2="37.90" y2="269.89" stroke="#4a4a4a" stroke-width="0.8" />
<line x1="101.17" y1="312.60" x2="101.17" y2="314.20" stroke="#4a4a4a" stroke-width="0.8" />
<line x1="39.50" y1="267.31" x2="37.90" y2="267.31" stroke="#4a4a4a" stroke-width="0.8" />
<line x1="104.05" y1="312.60" x2="104.05" y2="314.20" stroke="#4a4a4a" stroke-width="0.8" />
<line x1="39.50" y1="265.19" x2="37.90" y2="265.19" stroke="#4a4a4a" stroke-width="0.8" />
<line x1="106.48" y1="312.60" x2="106.48" y2="314.20" stroke="#4a4a4a" stroke-width="0.8" />
<line x1="39.50" y1="263.41" x2="37.90" y2="263.41" stroke="#4a4a4a" stroke-width="0.8" />
<line x1="108.58" y1="312.60" x2="108.58" y2="314.20" stroke="#4a4a4a" stroke-width="0.8" />
<line x1="39.50" y1="261.86" x2="37.90" y2="261.86" stroke="#4a4a4a" stroke-width="0.8" />
<line x1="110.44" y1="312.60" x2="110.44" y2="314.20" stroke="#4a4a4a" stroke-width="0.8" />
<line x1="39.50" y1="260.50" x2="37.90" y2="260.50" stroke="#4a4a4a" stroke-width="0.8" />
<line x1="112.10" y1="312.60" x2="112.10" y2="315.60" stroke="#4a4a4a" stroke-width="0.8" />
<line x1="39.50" y1="259.28" x2="36.50" y2="259.28" stroke="#4a4a4a" stroke-width="0.8" />
<line x1="123.03" y1="312.60" x2="123.03" y2="314.20" stroke="#4a4a4a" stroke-width="0.8" />
<line x1="39.50" y1="251.25" x2="37.90" y2="251.25" stroke="#4a4a4a" stroke-width="0.8" />
<line x1="129.42" y1="312.60" x2="129.42" y2="314.20" stroke="#4a4a4a" stroke-width="0.8" />
<line x1="39.50" y1="246.56" x2="37.90" y2="246.56" stroke="#4a4a4a" stroke-width="0.8" />
<line x1="133.95" y1="312.60" x2="133.95" y2="314.20" stroke="#4a4a4a" stroke-width="0.8" />
<line x1="39.50" y1="243.23" x2="37.90" y2="243.23" stroke="#4a4a4a" stroke-width="0.8" />
<line x1="137.47" y1="312.60" x2="137.47" y2="314.20" stroke="#4a4a4a" stroke-width="0.8" />
<line x1="39.50" y1="240.65" x2="37.90" y2="240.65" stroke="#4a4a4a" stroke-width="0.8" />
<line x1="140.35" y1="312.60" x2="140.35" y2="314.20" stroke="#4a4a4a" stroke-width="0.8" />
<line x1="39.50" y1="238.53" x2="37.90" y2="238.53" stroke="#4a4a4a" stroke-width="0.8" />
<line x1="142.78" y1="312.60" x2="142.78" y2="314.20" stroke="#4a4a4a" stroke-width="0.8" />
<line x1="39.50" y1="236.75" x2="37.90" y2="236.75" stroke="#4a4a4a" stroke-width="0.8" />
<line x1="144.88" y1="312.60" x2="144.88" y2="314.20" stroke="#4a4a4a" stroke-width="0.8" />
<line x1="39.50" y1="235.20" x2="37.90" y2="235.20" stroke="#4a4a4a" stroke-width="0.8" />
<line x1="146.74" y1="312.60" x2="146.74" y2="314.20" stroke="#4a4a4a" stroke-width="0.8" />
<line x1="39.50" y1="233.84" x2="37.90" y2="233.84" stroke="#4a4a4a" stroke-width="0.8" />
<line x1="148.40" y1="312.60" x2="148.40" y2="315.60" stroke="#4a4a4a" stroke-width="0.8" />
<line x1="39.50" y1="232.62" x2="36.50" y2="232.62" stroke="#4a4a4a" stroke-width="0.8" />
<line x1="159.33" y1="312.60" x2="159.33" y2="314.20" stroke="#4a4a4a" stroke-width="0.8" />
<line x1="39.50" y1="224.59" x2="37.90" y2="224.59" stroke="#4a4a4a" stroke-width="0.8" />
<line x1="165.72" y1="312.60" x2="165.72" y2="314.20" stroke="#4a4a4a" stroke-width="0.8" />
<line x1="39.50" y1="219.90" x2="37.90" y2="219.90" stroke="#4a4a4a" stroke-width="0.8" />
<line x1="170.25" y1="312.60" x2="170.25" y2="314.20" stroke="#4a4a4a" stroke-width="0.8" />
<line x1="39.50" y1="216.57" x2="37.90" y2="216.57" stroke="#4a4a4a" stroke-width="0.8" />
<line x1="173.77" y1="312.60" x2="173.77" y2="314.20" stroke="#4a4a4a" stroke-width="0.8" />
<line x1="39.50" y1="213.99" x2="37.90" y2="213.99" stroke="#4a4a4a" stroke-width="0.8" />
<line x1="176.65" y1="312.60" x2="176.65" y2="314.20" stroke="#4a4a4a" stroke-width="0.8" />
<line x1="39.50" y1="211.87" x2="37.90" y2="211.87" stroke="#4a4a4a" stroke-width="0.8" />
<line x1="179.08" y1="312.60" x2="179.08" y2="314.20" stroke="#4a4a4a" stroke-width="0.8" />
<line x1="39.50" y1="210.09" x2="37.90" y2="210.09" stroke="#4a4a4a" stroke-width="0.8" />
<line x1="181.18" y1="312.60" x2="181.18" y2="314.20" stroke="#4a4a4a" stroke-width="0.8" />
<line x1="39.50" y1="208.54" x2="37.90" y2="208.54" stroke="#4a4a4a" stroke-width="0.8" />
<line x1="183.04" y1="312.60" x2="183.04" y2="314.20" stroke="#4a4a4a" stroke-width="0.8" />
<line x1="39.50" y1="207.18" x2="37.90" y2="207.18" stroke="#4a4a4a" stroke-width="0.8" />
<line x1="184.70" y1="312.60" x2="184.70" y2="315.60" stroke="#4a4a4a" stroke-width="0.8" />
<line x1="39.50" y1="205.96" x2="36.50" y2="205.96" stroke="#4a4a4a" stroke-width="0.8" />
<line x1="195.63" y1="312.60" x2="195.63" y2="314.20" stroke="#4a4a4a" stroke-width="0.8" />
<line x1="39.50" y1="197.93" x2="37.90" y2="197.93" stroke="#4a4a4a" stroke-width="0.8" />
<line x1="202.02" y1="312.60" x2="202.02" y2="314.20" stroke="#4a4a4a" stroke-width="0.8" />
<line x1="39.50" y1="193.24" x2="37.90" y2="193.24" stroke="#4a4a4a" stroke-width="0.8" />
<line x1="206.55" y1="312.60" x2="206.55" y2="314.20" stroke="#4a4a4a" stroke-width="0.8" />
<line x1="39.50" y1="189.91" x2="37.90" y2="189.91" stroke="#4a4a4a" stroke-width="0.8" />
<line x1="210.07" y1="312.60" x2="210.07" y2="314.20" stroke="#4a4a4a" stroke-width="0.8" />
<line x1="39.50" y1="187.33" x2="37.90" y2="187.33" stroke="#4a4a4a" stroke-width="0.8" />
<line x1="212.95" y1="312.60" x2="212.95" y2="314.20" stroke="#4a4a4a" stroke-width="0.8" />
<line x1="39.50" y1="185.21" x2="37.90" y2="185.21" stroke="#4a4a4a" stroke-width="0.8" />
<line x1="215.38" y1="312.60" x2="215.38" y2="314.20" stroke="#4a4a4a" stroke-width="0.8" />
<line x1="39.50" y1="183.43" x2="37.90" y2="183.43" stroke="#4a4a4a" stroke-width="0.8" />
<line x1="217.48" y1="312.60" x2="217.48" y2="314.20" stroke="#4a4a4a" stroke-width="0.8" />
<line x1="39.50" y1="181.88" x2="37.90" y2="181.88" stroke="#4a4a4a" stroke-width="0.8" />
<line x1="219.34" y1="312.60" x2="219.34" y2="314.20" stroke="#4a4a4a" stroke-width="0.8" />
<line x1="39.50" y1="180.52" x2="37.90" y2="180.52" stroke="#4a4a4a" stroke-width="0.8" />
<line x1="221.00" y1="312.60" x2="221.00" y2="315.60" stroke="#4a4a4a" stroke-width="0.8" />
<line x1="39.50" y1="179.30" x2="36.50" y2="179.30" stroke="#4a4a4a" stroke-width="0.8" />
<rect x="39.50" y="179.30" width="181.50" height="133.30" fill="none" stroke="#4a4a4a" stroke-width="1.1"/>
<text x="39.50" y="324.60" font-size="8" text-anchor="middle" font-weight="normal" fill="#3a3a3a" >100</text>
<text x="34.00" y="315.00" font-size="8" text-anchor="end" font-weight="normal" fill="#3a3a3a" >100</text>
<text x="75.80" y="324.60" font-size="8" text-anchor="middle" font-weight="normal" fill="#3a3a3a" >1k</text>
<text x="34.00" y="288.34" font-size="8" text-anchor="end" font-weight="normal" fill="#3a3a3a" >1k</text>
<text x="112.10" y="324.60" font-size="8" text-anchor="middle" font-weight="normal" fill="#3a3a3a" >10k</text>
<text x="34.00" y="261.68" font-size="8" text-anchor="end" font-weight="normal" fill="#3a3a3a" >10k</text>
<text x="148.40" y="324.60" font-size="8" text-anchor="middle" font-weight="normal" fill="#3a3a3a" >100k</text>
<text x="34.00" y="235.02" font-size="8" text-anchor="end" font-weight="normal" fill="#3a3a3a" >100k</text>
<text x="184.70" y="324.60" font-size="8" text-anchor="middle" font-weight="normal" fill="#3a3a3a" >1M</text>
<text x="34.00" y="208.36" font-size="8" text-anchor="end" font-weight="normal" fill="#3a3a3a" >1M</text>
<text x="221.00" y="324.60" font-size="8" text-anchor="middle" font-weight="normal" fill="#3a3a3a" >10M</text>
<text x="34.00" y="181.70" font-size="8" text-anchor="end" font-weight="normal" fill="#3a3a3a" >10M</text>
<text x="132.00" y="335.80" font-size="10.5" text-anchor="middle" font-weight="normal" fill="#3a3a3a" >Input resistance (ohm)</text>
<text x="0.00" y="0.00" font-size="10.5" text-anchor="middle" font-weight="normal" fill="#3a3a3a" transform="translate(14.2,238.5) rotate(-90)">Meas. Z (ohm)</text>
<polyline points="39.50,266.20 75.80,265.99 101.17,261.86 112.10,255.81 137.47,240.65 148.40,232.62 173.77,213.99 184.70,205.40 210.07,187.33" stroke="#22cc22" stroke-width="0.8" fill="none" />
<polyline points="39.50,267.78 75.80,267.54 101.17,261.86 112.10,256.24 137.47,241.12 148.40,232.62 173.77,214.46 184.70,209.14 210.07,187.33" stroke="#111" stroke-width="0.7" fill="none" />
<circle cx="39.50" cy="266.20" r="2.1" fill="#22ee22" stroke="#11aa11" stroke-width="0.4"/>
<circle cx="75.80" cy="265.99" r="2.1" fill="#22ee22" stroke="#11aa11" stroke-width="0.4"/>
<circle cx="101.17" cy="261.86" r="2.1" fill="#22ee22" stroke="#11aa11" stroke-width="0.4"/>
<circle cx="112.10" cy="255.81" r="2.1" fill="#22ee22" stroke="#11aa11" stroke-width="0.4"/>
<circle cx="137.47" cy="240.65" r="2.1" fill="#22ee22" stroke="#11aa11" stroke-width="0.4"/>
<circle cx="148.40" cy="232.62" r="2.1" fill="#22ee22" stroke="#11aa11" stroke-width="0.4"/>
<circle cx="173.77" cy="213.99" r="2.1" fill="#22ee22" stroke="#11aa11" stroke-width="0.4"/>
<circle cx="184.70" cy="205.40" r="2.1" fill="#22ee22" stroke="#11aa11" stroke-width="0.4"/>
<circle cx="210.07" cy="187.33" r="2.1" fill="#22ee22" stroke="#11aa11" stroke-width="0.4"/>
<polygon points="37.00,269.48 42.00,269.48 39.50,265.28" fill="none" stroke="#111" stroke-width="0.75"/>
<polygon points="73.30,269.24 78.30,269.24 75.80,265.04" fill="none" stroke="#111" stroke-width="0.75"/>
<polygon points="98.67,263.56 103.67,263.56 101.17,259.36" fill="none" stroke="#111" stroke-width="0.75"/>
<polygon points="109.60,257.94 114.60,257.94 112.10,253.74" fill="none" stroke="#111" stroke-width="0.75"/>
<polygon points="134.97,242.82 139.97,242.82 137.47,238.62" fill="none" stroke="#111" stroke-width="0.75"/>
<polygon points="145.90,234.32 150.90,234.32 148.40,230.12" fill="none" stroke="#111" stroke-width="0.75"/>
<polygon points="171.27,216.16 176.27,216.16 173.77,211.96" fill="none" stroke="#111" stroke-width="0.75"/>
<polygon points="182.20,210.84 187.20,210.84 184.70,206.64" fill="none" stroke="#111" stroke-width="0.75"/>
<polygon points="207.57,189.03 212.57,189.03 210.07,184.83" fill="none" stroke="#111" stroke-width="0.75"/>
<line x1="42.00" y1="188.00" x2="60.00" y2="188.00" stroke="#33dd33" stroke-width="1" />
<circle cx="51" cy="188" r="2.1" fill="#22ee22"/>
<text x="62.50" y="191.00" font-size="7.6" text-anchor="start" font-weight="normal" fill="#444" letter-spacing="0.6">0.1k</text>
<line x1="42.00" y1="197.30" x2="60.00" y2="197.30" stroke="#111" stroke-width="0.9" />
<polygon points="48.4,199.2 53.6,199.2 51,194.6" fill="#fff" stroke="#111" stroke-width="0.8"/>
<text x="62.50" y="200.30" font-size="7.6" text-anchor="start" font-weight="normal" fill="#444" letter-spacing="0.3">10k</text>
<text x="223.30" y="173.00" font-size="16.5" text-anchor="start" font-weight="bold" fill="#111" >(e)</text>
<line x1="262.40" y1="187.40" x2="259.40" y2="187.40" stroke="#4a4a4a" stroke-width="0.8" />
<line x1="262.40" y1="196.40" x2="260.80" y2="196.40" stroke="#4a4a4a" stroke-width="0.8" />
<text x="258.00" y="190.10" font-size="7.6" text-anchor="end" font-weight="normal" fill="#3a3a3a" letter-spacing="0.55">0.00</text>
<line x1="262.40" y1="205.40" x2="259.40" y2="205.40" stroke="#4a4a4a" stroke-width="0.8" />
<line x1="262.40" y1="214.40" x2="260.80" y2="214.40" stroke="#4a4a4a" stroke-width="0.8" />
<text x="258.00" y="208.10" font-size="7.6" text-anchor="end" font-weight="normal" fill="#3a3a3a" letter-spacing="0.55">-0.05</text>
<line x1="262.40" y1="223.40" x2="259.40" y2="223.40" stroke="#4a4a4a" stroke-width="0.8" />
<line x1="262.40" y1="232.40" x2="260.80" y2="232.40" stroke="#4a4a4a" stroke-width="0.8" />
<text x="258.00" y="226.10" font-size="7.6" text-anchor="end" font-weight="normal" fill="#3a3a3a" letter-spacing="0.55">-0.10</text>
<line x1="262.40" y1="241.40" x2="259.40" y2="241.40" stroke="#4a4a4a" stroke-width="0.8" />
<line x1="262.40" y1="250.40" x2="260.80" y2="250.40" stroke="#4a4a4a" stroke-width="0.8" />
<text x="258.00" y="244.10" font-size="7.6" text-anchor="end" font-weight="normal" fill="#3a3a3a" letter-spacing="0.55">-0.15</text>
<line x1="262.40" y1="259.40" x2="259.40" y2="259.40" stroke="#4a4a4a" stroke-width="0.8" />
<line x1="262.40" y1="268.40" x2="260.80" y2="268.40" stroke="#4a4a4a" stroke-width="0.8" />
<text x="258.00" y="262.10" font-size="7.6" text-anchor="end" font-weight="normal" fill="#3a3a3a" letter-spacing="0.55">-0.20</text>
<line x1="262.40" y1="277.40" x2="259.40" y2="277.40" stroke="#4a4a4a" stroke-width="0.8" />
<line x1="262.40" y1="286.40" x2="260.80" y2="286.40" stroke="#4a4a4a" stroke-width="0.8" />
<text x="258.00" y="280.10" font-size="7.6" text-anchor="end" font-weight="normal" fill="#3a3a3a" letter-spacing="0.55">-0.25</text>
<line x1="262.40" y1="295.40" x2="259.40" y2="295.40" stroke="#4a4a4a" stroke-width="0.8" />
<line x1="262.40" y1="304.40" x2="260.80" y2="304.40" stroke="#4a4a4a" stroke-width="0.8" />
<text x="258.00" y="298.10" font-size="7.6" text-anchor="end" font-weight="normal" fill="#3a3a3a" letter-spacing="0.55">-0.30</text>
<line x1="262.40" y1="313.40" x2="259.40" y2="313.40" stroke="#4a4a4a" stroke-width="0.8" />
<text x="258.00" y="316.10" font-size="7.6" text-anchor="end" font-weight="normal" fill="#3a3a3a" letter-spacing="0.55">-0.35</text>
<line x1="262.40" y1="178.40" x2="260.80" y2="178.40" stroke="#4a4a4a" stroke-width="0.8" />
<line x1="277.50" y1="312.70" x2="277.50" y2="315.70" stroke="#4a4a4a" stroke-width="0.8" />
<line x1="292.75" y1="312.70" x2="292.75" y2="314.30" stroke="#4a4a4a" stroke-width="0.8" />
<text x="277.50" y="324.30" font-size="9.8" text-anchor="middle" font-weight="normal" fill="#3a3a3a" textLength="9.16" lengthAdjust="spacingAndGlyphs">30</text>
<line x1="308.00" y1="312.70" x2="308.00" y2="315.70" stroke="#4a4a4a" stroke-width="0.8" />
<line x1="323.25" y1="312.70" x2="323.25" y2="314.30" stroke="#4a4a4a" stroke-width="0.8" />
<text x="308.00" y="324.30" font-size="9.8" text-anchor="middle" font-weight="normal" fill="#3a3a3a" textLength="9.16" lengthAdjust="spacingAndGlyphs">32</text>
<line x1="338.50" y1="312.70" x2="338.50" y2="315.70" stroke="#4a4a4a" stroke-width="0.8" />
<line x1="353.75" y1="312.70" x2="353.75" y2="314.30" stroke="#4a4a4a" stroke-width="0.8" />
<text x="338.50" y="324.30" font-size="9.8" text-anchor="middle" font-weight="normal" fill="#3a3a3a" textLength="9.16" lengthAdjust="spacingAndGlyphs">34</text>
<line x1="369.00" y1="312.70" x2="369.00" y2="315.70" stroke="#4a4a4a" stroke-width="0.8" />
<line x1="384.25" y1="312.70" x2="384.25" y2="314.30" stroke="#4a4a4a" stroke-width="0.8" />
<text x="369.00" y="324.30" font-size="9.8" text-anchor="middle" font-weight="normal" fill="#3a3a3a" textLength="9.16" lengthAdjust="spacingAndGlyphs">36</text>
<line x1="399.50" y1="312.70" x2="399.50" y2="315.70" stroke="#4a4a4a" stroke-width="0.8" />
<line x1="414.75" y1="312.70" x2="414.75" y2="314.30" stroke="#4a4a4a" stroke-width="0.8" />
<text x="399.50" y="324.30" font-size="9.8" text-anchor="middle" font-weight="normal" fill="#3a3a3a" textLength="9.16" lengthAdjust="spacingAndGlyphs">38</text>
<line x1="430.00" y1="312.70" x2="430.00" y2="315.70" stroke="#4a4a4a" stroke-width="0.8" />
<line x1="445.25" y1="312.70" x2="445.25" y2="314.30" stroke="#4a4a4a" stroke-width="0.8" />
<text x="430.00" y="324.30" font-size="9.8" text-anchor="middle" font-weight="normal" fill="#3a3a3a" textLength="9.16" lengthAdjust="spacingAndGlyphs">40</text>
<rect x="262.40" y="178.60" width="182.90" height="134.10" fill="none" stroke="#4a4a4a" stroke-width="1.1"/>
<text x="0.00" y="0.00" font-size="10.5" text-anchor="middle" font-weight="normal" fill="#3a3a3a" transform="translate(234,242) rotate(-90)">ΔR/R<tspan font-size="7" dy="2">0</tspan></text>
<text x="351.00" y="335.50" font-size="10.3" text-anchor="middle" font-weight="normal" fill="#3a3a3a" >Temperature  (<tspan font-size="6.5" dy="-3">o</tspan><tspan dy="3">C)</tspan></text>
<text x="384.50" y="195.00" font-size="9.2" text-anchor="start" font-weight="normal" fill="#3a3a3a" >R² = 0.9591</text>
<line x1="279.90" y1="200.30" x2="430.20" y2="297.40" stroke="#222" stroke-width="0.8" />
<polyline points="279.03,187.40 292.75,206.12 311.05,222.32 321.72,234.20 336.97,244.28 355.28,255.08 365.95,263.00 384.25,271.28 401.03,278.48 414.75,285.32 430.00,290.72" stroke="#ee3399" stroke-width="0.8" fill="none" />
<rect x="276.63" y="185.00" width="4.8" height="4.8" fill="#f0108a"/>
<line x1="292.75" y1="203.96" x2="292.75" y2="208.28" stroke="#ee1188" stroke-width="0.8" />
<line x1="291.15" y1="203.96" x2="294.35" y2="203.96" stroke="#ee1188" stroke-width="0.8" />
<line x1="291.15" y1="208.28" x2="294.35" y2="208.28" stroke="#ee1188" stroke-width="0.8" />
<rect x="290.35" y="203.72" width="4.8" height="4.8" fill="#f0108a"/>
<line x1="311.05" y1="219.44" x2="311.05" y2="225.20" stroke="#ee1188" stroke-width="0.8" />
<line x1="309.45" y1="219.44" x2="312.65" y2="219.44" stroke="#ee1188" stroke-width="0.8" />
<line x1="309.45" y1="225.20" x2="312.65" y2="225.20" stroke="#ee1188" stroke-width="0.8" />
<rect x="308.65" y="219.92" width="4.8" height="4.8" fill="#f0108a"/>
<line x1="321.72" y1="231.68" x2="321.72" y2="236.72" stroke="#ee1188" stroke-width="0.8" />
<line x1="320.12" y1="231.68" x2="323.32" y2="231.68" stroke="#ee1188" stroke-width="0.8" />
<line x1="320.12" y1="236.72" x2="323.32" y2="236.72" stroke="#ee1188" stroke-width="0.8" />
<rect x="319.32" y="231.80" width="4.8" height="4.8" fill="#f0108a"/>
<line x1="336.97" y1="240.68" x2="336.97" y2="247.88" stroke="#ee1188" stroke-width="0.8" />
<line x1="335.37" y1="240.68" x2="338.57" y2="240.68" stroke="#ee1188" stroke-width="0.8" />
<line x1="335.37" y1="247.88" x2="338.57" y2="247.88" stroke="#ee1188" stroke-width="0.8" />
<rect x="334.57" y="241.88" width="4.8" height="4.8" fill="#f0108a"/>
<line x1="355.28" y1="251.84" x2="355.28" y2="258.32" stroke="#ee1188" stroke-width="0.8" />
<line x1="353.68" y1="251.84" x2="356.88" y2="251.84" stroke="#ee1188" stroke-width="0.8" />
<line x1="353.68" y1="258.32" x2="356.88" y2="258.32" stroke="#ee1188" stroke-width="0.8" />
<rect x="352.88" y="252.68" width="4.8" height="4.8" fill="#f0108a"/>
<line x1="365.95" y1="259.40" x2="365.95" y2="266.60" stroke="#ee1188" stroke-width="0.8" />
<line x1="364.35" y1="259.40" x2="367.55" y2="259.40" stroke="#ee1188" stroke-width="0.8" />
<line x1="364.35" y1="266.60" x2="367.55" y2="266.60" stroke="#ee1188" stroke-width="0.8" />
<rect x="363.55" y="260.60" width="4.8" height="4.8" fill="#f0108a"/>
<line x1="384.25" y1="267.68" x2="384.25" y2="274.88" stroke="#ee1188" stroke-width="0.8" />
<line x1="382.65" y1="267.68" x2="385.85" y2="267.68" stroke="#ee1188" stroke-width="0.8" />
<line x1="382.65" y1="274.88" x2="385.85" y2="274.88" stroke="#ee1188" stroke-width="0.8" />
<rect x="381.85" y="268.88" width="4.8" height="4.8" fill="#f0108a"/>
<line x1="401.03" y1="274.52" x2="401.03" y2="282.44" stroke="#ee1188" stroke-width="0.8" />
<line x1="399.43" y1="274.52" x2="402.63" y2="274.52" stroke="#ee1188" stroke-width="0.8" />
<line x1="399.43" y1="282.44" x2="402.63" y2="282.44" stroke="#ee1188" stroke-width="0.8" />
<rect x="398.63" y="276.08" width="4.8" height="4.8" fill="#f0108a"/>
<line x1="414.75" y1="281.00" x2="414.75" y2="289.64" stroke="#ee1188" stroke-width="0.8" />
<line x1="413.15" y1="281.00" x2="416.35" y2="281.00" stroke="#ee1188" stroke-width="0.8" />
<line x1="413.15" y1="289.64" x2="416.35" y2="289.64" stroke="#ee1188" stroke-width="0.8" />
<rect x="412.35" y="282.92" width="4.8" height="4.8" fill="#f0108a"/>
<line x1="430.00" y1="286.40" x2="430.00" y2="295.04" stroke="#ee1188" stroke-width="0.8" />
<line x1="428.40" y1="286.40" x2="431.60" y2="286.40" stroke="#ee1188" stroke-width="0.8" />
<line x1="428.40" y1="295.04" x2="431.60" y2="295.04" stroke="#ee1188" stroke-width="0.8" />
<rect x="427.60" y="288.32" width="4.8" height="4.8" fill="#f0108a"/>
<text x="456.60" y="173.00" font-size="16.5" text-anchor="start" font-weight="bold" fill="#111" >(g)</text>
<line x1="499.60" y1="179.50" x2="496.60" y2="179.50" stroke="#4a4a4a" stroke-width="0.8" />
<line x1="499.60" y1="186.93" x2="498.00" y2="186.93" stroke="#4a4a4a" stroke-width="0.8" />
<text x="495.00" y="182.20" font-size="7.7" text-anchor="end" font-weight="normal" fill="#3a3a3a" letter-spacing="0.65">0.16</text>
<line x1="499.60" y1="194.35" x2="496.60" y2="194.35" stroke="#4a4a4a" stroke-width="0.8" />
<line x1="499.60" y1="201.78" x2="498.00" y2="201.78" stroke="#4a4a4a" stroke-width="0.8" />
<text x="495.00" y="197.05" font-size="7.7" text-anchor="end" font-weight="normal" fill="#3a3a3a" letter-spacing="0.65">0.14</text>
<line x1="499.60" y1="209.20" x2="496.60" y2="209.20" stroke="#4a4a4a" stroke-width="0.8" />
<line x1="499.60" y1="216.62" x2="498.00" y2="216.62" stroke="#4a4a4a" stroke-width="0.8" />
<text x="495.00" y="211.90" font-size="7.7" text-anchor="end" font-weight="normal" fill="#3a3a3a" letter-spacing="0.65">0.12</text>
<line x1="499.60" y1="224.05" x2="496.60" y2="224.05" stroke="#4a4a4a" stroke-width="0.8" />
<line x1="499.60" y1="231.47" x2="498.00" y2="231.47" stroke="#4a4a4a" stroke-width="0.8" />
<text x="495.00" y="226.75" font-size="7.7" text-anchor="end" font-weight="normal" fill="#3a3a3a" letter-spacing="0.65">0.10</text>
<line x1="499.60" y1="238.90" x2="496.60" y2="238.90" stroke="#4a4a4a" stroke-width="0.8" />
<line x1="499.60" y1="246.32" x2="498.00" y2="246.32" stroke="#4a4a4a" stroke-width="0.8" />
<text x="495.00" y="241.60" font-size="7.7" text-anchor="end" font-weight="normal" fill="#3a3a3a" letter-spacing="0.65">0.08</text>
<line x1="499.60" y1="253.75" x2="496.60" y2="253.75" stroke="#4a4a4a" stroke-width="0.8" />
<line x1="499.60" y1="261.18" x2="498.00" y2="261.18" stroke="#4a4a4a" stroke-width="0.8" />
<text x="495.00" y="256.45" font-size="7.7" text-anchor="end" font-weight="normal" fill="#3a3a3a" letter-spacing="0.65">0.06</text>
<line x1="499.60" y1="268.60" x2="496.60" y2="268.60" stroke="#4a4a4a" stroke-width="0.8" />
<line x1="499.60" y1="276.02" x2="498.00" y2="276.02" stroke="#4a4a4a" stroke-width="0.8" />
<text x="495.00" y="271.30" font-size="7.7" text-anchor="end" font-weight="normal" fill="#3a3a3a" letter-spacing="0.65">0.04</text>
<line x1="499.60" y1="283.45" x2="496.60" y2="283.45" stroke="#4a4a4a" stroke-width="0.8" />
<line x1="499.60" y1="290.88" x2="498.00" y2="290.88" stroke="#4a4a4a" stroke-width="0.8" />
<text x="495.00" y="286.15" font-size="7.7" text-anchor="end" font-weight="normal" fill="#3a3a3a" letter-spacing="0.65">0.02</text>
<line x1="499.60" y1="298.30" x2="496.60" y2="298.30" stroke="#4a4a4a" stroke-width="0.8" />
<line x1="499.60" y1="305.73" x2="498.00" y2="305.73" stroke="#4a4a4a" stroke-width="0.8" />
<text x="495.00" y="301.00" font-size="7.7" text-anchor="end" font-weight="normal" fill="#3a3a3a" letter-spacing="0.65">0.00</text>
<line x1="499.60" y1="313.15" x2="496.60" y2="313.15" stroke="#4a4a4a" stroke-width="0.8" />
<text x="495.00" y="315.85" font-size="7.7" text-anchor="end" font-weight="normal" fill="#3a3a3a" letter-spacing="0.65">-0.02</text>
<line x1="499.60" y1="313.70" x2="499.60" y2="316.70" stroke="#4a4a4a" stroke-width="0.8" />
<line x1="516.18" y1="313.70" x2="516.18" y2="315.30" stroke="#4a4a4a" stroke-width="0.8" />
<text x="499.60" y="325.00" font-size="8.9" text-anchor="middle" font-weight="normal" fill="#3a3a3a" textLength="4.26" lengthAdjust="spacingAndGlyphs">0</text>
<line x1="532.75" y1="313.70" x2="532.75" y2="316.70" stroke="#4a4a4a" stroke-width="0.8" />
<line x1="549.33" y1="313.70" x2="549.33" y2="315.30" stroke="#4a4a4a" stroke-width="0.8" />
<text x="532.75" y="325.00" font-size="8.9" text-anchor="middle" font-weight="normal" fill="#3a3a3a" textLength="8.51" lengthAdjust="spacingAndGlyphs">10</text>
<line x1="565.90" y1="313.70" x2="565.90" y2="316.70" stroke="#4a4a4a" stroke-width="0.8" />
<line x1="582.48" y1="313.70" x2="582.48" y2="315.30" stroke="#4a4a4a" stroke-width="0.8" />
<text x="565.90" y="325.00" font-size="8.9" text-anchor="middle" font-weight="normal" fill="#3a3a3a" textLength="8.51" lengthAdjust="spacingAndGlyphs">20</text>
<line x1="599.05" y1="313.70" x2="599.05" y2="316.70" stroke="#4a4a4a" stroke-width="0.8" />
<line x1="615.62" y1="313.70" x2="615.62" y2="315.30" stroke="#4a4a4a" stroke-width="0.8" />
<text x="599.05" y="325.00" font-size="8.9" text-anchor="middle" font-weight="normal" fill="#3a3a3a" textLength="8.51" lengthAdjust="spacingAndGlyphs">30</text>
<line x1="632.20" y1="313.70" x2="632.20" y2="316.70" stroke="#4a4a4a" stroke-width="0.8" />
<line x1="648.78" y1="313.70" x2="648.78" y2="315.30" stroke="#4a4a4a" stroke-width="0.8" />
<text x="632.20" y="325.00" font-size="8.9" text-anchor="middle" font-weight="normal" fill="#3a3a3a" textLength="8.51" lengthAdjust="spacingAndGlyphs">40</text>
<line x1="665.35" y1="313.70" x2="665.35" y2="316.70" stroke="#4a4a4a" stroke-width="0.8" />
<line x1="681.92" y1="313.70" x2="681.92" y2="315.30" stroke="#4a4a4a" stroke-width="0.8" />
<text x="665.35" y="325.00" font-size="8.9" text-anchor="middle" font-weight="normal" fill="#3a3a3a" textLength="8.51" lengthAdjust="spacingAndGlyphs">50</text>
<rect x="499.60" y="179.50" width="182.30" height="134.20" fill="none" stroke="#4a4a4a" stroke-width="1.1"/>
<line x1="565.90" y1="180.50" x2="565.90" y2="312.70" stroke="#c8c89a" stroke-width="0.9" stroke-dasharray="2.2,1.6"/>
<text x="0.00" y="0.00" font-size="10.5" text-anchor="middle" font-weight="normal" fill="#3a3a3a" transform="translate(474,242) rotate(-90)">ΔR/R<tspan font-size="7" dy="2">0</tspan></text>
<text x="596.50" y="333.50" font-size="10.3" text-anchor="middle" font-weight="normal" fill="#3a3a3a" >Pressure  (kPa)</text>
<text x="510.70" y="196.70" font-size="9" text-anchor="start" font-weight="normal" fill="#3a3a3a" >Stage 1</text>
<text x="510.70" y="210.00" font-size="9.3" text-anchor="start" font-weight="normal" fill="#3a3a3a" >R² = 0.9266</text>
<text x="591.30" y="256.30" font-size="9" text-anchor="start" font-weight="normal" fill="#3a3a3a" >Stage 2</text>
<text x="593.00" y="276.20" font-size="9.3" text-anchor="start" font-weight="normal" fill="#3a3a3a" >R² = 0.9361</text>
<line x1="516.90" y1="293.80" x2="565.60" y2="233.80" stroke="#333" stroke-width="0.8" />
<line x1="565.60" y1="233.80" x2="665.40" y2="204.60" stroke="#333" stroke-width="0.8" />
<rect x="513.78" y="295.90" width="4.8" height="4.8" fill="#0d7d7d"/>
<line x1="532.75" y1="256.72" x2="532.75" y2="276.02" stroke="#1a8a8a" stroke-width="0.8" />
<line x1="531.15" y1="256.72" x2="534.35" y2="256.72" stroke="#1a8a8a" stroke-width="0.8" />
<line x1="531.15" y1="276.02" x2="534.35" y2="276.02" stroke="#1a8a8a" stroke-width="0.8" />
<rect x="530.35" y="263.97" width="4.8" height="4.8" fill="#0d7d7d"/>
<line x1="565.90" y1="228.50" x2="565.90" y2="240.39" stroke="#1a8a8a" stroke-width="0.8" />
<line x1="564.30" y1="228.50" x2="567.50" y2="228.50" stroke="#1a8a8a" stroke-width="0.8" />
<line x1="564.30" y1="240.39" x2="567.50" y2="240.39" stroke="#1a8a8a" stroke-width="0.8" />
<rect x="563.50" y="232.04" width="4.8" height="4.8" fill="#0d7d7d"/>
<line x1="599.05" y1="221.08" x2="599.05" y2="234.44" stroke="#1a8a8a" stroke-width="0.8" />
<line x1="597.45" y1="221.08" x2="600.65" y2="221.08" stroke="#1a8a8a" stroke-width="0.8" />
<line x1="597.45" y1="234.44" x2="600.65" y2="234.44" stroke="#1a8a8a" stroke-width="0.8" />
<rect x="596.65" y="225.36" width="4.8" height="4.8" fill="#0d7d7d"/>
<line x1="632.20" y1="207.72" x2="632.20" y2="225.53" stroke="#1a8a8a" stroke-width="0.8" />
<line x1="630.60" y1="207.72" x2="633.80" y2="207.72" stroke="#1a8a8a" stroke-width="0.8" />
<line x1="630.60" y1="225.53" x2="633.80" y2="225.53" stroke="#1a8a8a" stroke-width="0.8" />
<rect x="629.80" y="214.22" width="4.8" height="4.8" fill="#0d7d7d"/>
<line x1="665.35" y1="189.89" x2="665.35" y2="213.66" stroke="#1a8a8a" stroke-width="0.8" />
<line x1="663.75" y1="189.89" x2="666.95" y2="189.89" stroke="#1a8a8a" stroke-width="0.8" />
<line x1="663.75" y1="213.66" x2="666.95" y2="213.66" stroke="#1a8a8a" stroke-width="0.8" />
<rect x="662.95" y="199.38" width="4.8" height="4.8" fill="#0d7d7d"/>
<text x="2.20" y="347.80" font-size="16.5" text-anchor="start" font-weight="bold" fill="#111" >(d)</text>
<line x1="39.50" y1="484.80" x2="36.50" y2="484.80" stroke="#4a4a4a" stroke-width="0.8" />
<text x="34.60" y="488.20" font-size="9.6" text-anchor="end" font-weight="normal" fill="#3a3a3a" textLength="9.40" lengthAdjust="spacingAndGlyphs">10</text>
<line x1="39.50" y1="455.60" x2="36.50" y2="455.60" stroke="#4a4a4a" stroke-width="0.8" />
<text x="34.60" y="459.00" font-size="9.6" text-anchor="end" font-weight="normal" fill="#3a3a3a" textLength="9.40" lengthAdjust="spacingAndGlyphs">15</text>
<line x1="39.50" y1="426.40" x2="36.50" y2="426.40" stroke="#4a4a4a" stroke-width="0.8" />
<text x="34.60" y="429.80" font-size="9.6" text-anchor="end" font-weight="normal" fill="#3a3a3a" textLength="9.40" lengthAdjust="spacingAndGlyphs">20</text>
<line x1="39.50" y1="397.20" x2="36.50" y2="397.20" stroke="#4a4a4a" stroke-width="0.8" />
<text x="34.60" y="400.60" font-size="9.6" text-anchor="end" font-weight="normal" fill="#3a3a3a" textLength="9.40" lengthAdjust="spacingAndGlyphs">25</text>
<line x1="39.50" y1="368.00" x2="36.50" y2="368.00" stroke="#4a4a4a" stroke-width="0.8" />
<text x="34.60" y="371.40" font-size="9.6" text-anchor="end" font-weight="normal" fill="#3a3a3a" textLength="9.40" lengthAdjust="spacingAndGlyphs">30</text>
<line x1="39.50" y1="470.20" x2="37.90" y2="470.20" stroke="#4a4a4a" stroke-width="0.8" />
<line x1="39.50" y1="441.00" x2="37.90" y2="441.00" stroke="#4a4a4a" stroke-width="0.8" />
<line x1="39.50" y1="411.80" x2="37.90" y2="411.80" stroke="#4a4a4a" stroke-width="0.8" />
<line x1="39.50" y1="382.60" x2="37.90" y2="382.60" stroke="#4a4a4a" stroke-width="0.8" />
<line x1="39.20" y1="490.40" x2="39.20" y2="493.40" stroke="#4a4a4a" stroke-width="0.8" />
<text x="39.20" y="502.40" font-size="9.6" text-anchor="middle" font-weight="normal" fill="#3a3a3a" textLength="4.70" lengthAdjust="spacingAndGlyphs">0</text>
<line x1="85.00" y1="490.40" x2="85.00" y2="493.40" stroke="#4a4a4a" stroke-width="0.8" />
<text x="85.00" y="502.40" font-size="9.6" text-anchor="middle" font-weight="normal" fill="#3a3a3a" textLength="9.40" lengthAdjust="spacingAndGlyphs">10</text>
<line x1="130.80" y1="490.40" x2="130.80" y2="493.40" stroke="#4a4a4a" stroke-width="0.8" />
<text x="130.80" y="502.40" font-size="9.6" text-anchor="middle" font-weight="normal" fill="#3a3a3a" textLength="9.40" lengthAdjust="spacingAndGlyphs">20</text>
<line x1="176.60" y1="490.40" x2="176.60" y2="493.40" stroke="#4a4a4a" stroke-width="0.8" />
<text x="176.60" y="502.40" font-size="9.6" text-anchor="middle" font-weight="normal" fill="#3a3a3a" textLength="9.40" lengthAdjust="spacingAndGlyphs">30</text>
<line x1="222.40" y1="490.40" x2="222.40" y2="493.40" stroke="#4a4a4a" stroke-width="0.8" />
<text x="222.40" y="502.40" font-size="9.6" text-anchor="middle" font-weight="normal" fill="#3a3a3a" textLength="9.40" lengthAdjust="spacingAndGlyphs">40</text>
<line x1="62.10" y1="490.40" x2="62.10" y2="492.00" stroke="#4a4a4a" stroke-width="0.8" />
<line x1="107.90" y1="490.40" x2="107.90" y2="492.00" stroke="#4a4a4a" stroke-width="0.8" />
<line x1="153.70" y1="490.40" x2="153.70" y2="492.00" stroke="#4a4a4a" stroke-width="0.8" />
<line x1="199.50" y1="490.40" x2="199.50" y2="492.00" stroke="#4a4a4a" stroke-width="0.8" />
<rect x="39.50" y="356.40" width="182.70" height="134.00" fill="none" stroke="#4a4a4a" stroke-width="1.1"/>
<text x="0.00" y="0.00" font-size="10.3" text-anchor="middle" font-weight="normal" fill="#3a3a3a" transform="translate(18.5,421) rotate(-90)">Resistance  (ohm)</text>
<text x="129.20" y="514.80" font-size="10.3" text-anchor="middle" font-weight="normal" fill="#3a3a3a" >Time  (s)</text>
<text x="168.20" y="373.80" font-size="9" text-anchor="start" font-weight="normal" fill="#3a3a3a" >@ 15.6kpa</text>
<polyline points="39.50,395.68 52.30,395.68 56.30,396.95 63.80,396.95 65.20,395.68 68.50,395.68 70.00,396.20 73.30,396.20 76.70,397.40 80.80,397.40 81.40,394.93 93.70,394.93 95.70,397.18 97.70,396.12 107.90,397.40 110.50,397.40 112.00,394.62 116.70,395.68 123.50,395.68 124.90,396.95 130.00,397.18 132.00,395.97 142.90,396.35 147.60,396.95 149.00,396.95 150.10,395.15 157.80,395.38 161.20,397.70 164.60,397.70 165.60,396.12 174.80,396.65 183.60,397.18 185.70,397.18 187.70,395.38 193.10,395.97 196.50,397.40 204.00,397.40 205.30,395.68 212.10,395.68 214.80,396.95 221.60,396.95" stroke="#1a1a1a" stroke-width="1.4" fill="none" stroke-linejoin="round"/>
<text x="226.70" y="346.10" font-size="16.5" text-anchor="start" font-weight="bold" fill="#111" >(f)</text>
<line x1="266.50" y1="490.60" x2="263.50" y2="490.60" stroke="#4a4a4a" stroke-width="0.8" />
<line x1="266.50" y1="478.50" x2="264.90" y2="478.50" stroke="#4a4a4a" stroke-width="0.8" />
<text x="261.80" y="493.10" font-size="7" text-anchor="end" font-weight="bold" fill="#3a3a3a" letter-spacing="0.3">0.0</text>
<line x1="266.50" y1="466.40" x2="263.50" y2="466.40" stroke="#4a4a4a" stroke-width="0.8" />
<line x1="266.50" y1="454.30" x2="264.90" y2="454.30" stroke="#4a4a4a" stroke-width="0.8" />
<text x="261.80" y="468.90" font-size="7" text-anchor="end" font-weight="bold" fill="#3a3a3a" letter-spacing="0.3">0.2</text>
<line x1="266.50" y1="442.20" x2="263.50" y2="442.20" stroke="#4a4a4a" stroke-width="0.8" />
<line x1="266.50" y1="430.10" x2="264.90" y2="430.10" stroke="#4a4a4a" stroke-width="0.8" />
<text x="261.80" y="444.70" font-size="7" text-anchor="end" font-weight="bold" fill="#3a3a3a" letter-spacing="0.3">0.4</text>
<line x1="266.50" y1="418.00" x2="263.50" y2="418.00" stroke="#4a4a4a" stroke-width="0.8" />
<line x1="266.50" y1="405.90" x2="264.90" y2="405.90" stroke="#4a4a4a" stroke-width="0.8" />
<text x="261.80" y="420.50" font-size="7" text-anchor="end" font-weight="bold" fill="#3a3a3a" letter-spacing="0.3">0.6</text>
<line x1="266.50" y1="393.80" x2="263.50" y2="393.80" stroke="#4a4a4a" stroke-width="0.8" />
<line x1="266.50" y1="381.70" x2="264.90" y2="381.70" stroke="#4a4a4a" stroke-width="0.8" />
<text x="261.80" y="396.30" font-size="7" text-anchor="end" font-weight="bold" fill="#3a3a3a" letter-spacing="0.3">0.8</text>
<line x1="266.50" y1="369.60" x2="263.50" y2="369.60" stroke="#4a4a4a" stroke-width="0.8" />
<line x1="266.50" y1="357.50" x2="264.90" y2="357.50" stroke="#4a4a4a" stroke-width="0.8" />
<text x="261.80" y="372.10" font-size="7" text-anchor="end" font-weight="bold" fill="#3a3a3a" letter-spacing="0.3">1.0</text>
<line x1="278.30" y1="491.30" x2="278.30" y2="494.30" stroke="#4a4a4a" stroke-width="0.8" />
<text x="272.80" y="504.30" font-size="9.9" text-anchor="middle" font-weight="normal" fill="#3a3a3a" letter-spacing="-0.35">0</text>
<line x1="330.10" y1="491.30" x2="330.10" y2="494.30" stroke="#4a4a4a" stroke-width="0.8" />
<text x="324.60" y="504.30" font-size="9.9" text-anchor="middle" font-weight="normal" fill="#3a3a3a" letter-spacing="-0.35">4.7</text>
<line x1="381.90" y1="491.30" x2="381.90" y2="494.30" stroke="#4a4a4a" stroke-width="0.8" />
<text x="376.40" y="504.30" font-size="9.9" text-anchor="middle" font-weight="normal" fill="#3a3a3a" letter-spacing="-0.35">23.3</text>
<line x1="433.70" y1="491.30" x2="433.70" y2="494.30" stroke="#4a4a4a" stroke-width="0.8" />
<text x="428.20" y="504.30" font-size="9.9" text-anchor="middle" font-weight="normal" fill="#3a3a3a" letter-spacing="-0.35">46.7</text>
<rect x="266.50" y="357.40" width="179.70" height="133.90" fill="none" stroke="#4a4a4a" stroke-width="1.1"/>
<text x="0.00" y="0.00" font-size="10.3" text-anchor="middle" font-weight="normal" fill="#3a3a3a" transform="translate(241,428) rotate(-90)">Relative  sensitivity</text>
<text x="354.00" y="515.20" font-size="10.3" text-anchor="middle" font-weight="normal" fill="#3a3a3a" >Pressure  (kPa)</text>
<polyline points="278.30,369.60 330.10,375.17 381.90,372.62 433.70,378.92" stroke="#f060b0" stroke-width="0.9" fill="none" />
<rect x="277.10" y="367.90" width="3.4" height="3.4" fill="#f0108a"/>
<line x1="330.60" y1="373.35" x2="330.60" y2="376.98" stroke="#f0108a" stroke-width="2.0" />
<rect x="328.90" y="373.47" width="3.4" height="3.4" fill="#f0108a"/>
<line x1="382.40" y1="371.42" x2="382.40" y2="373.84" stroke="#f0108a" stroke-width="2.0" />
<rect x="380.70" y="370.93" width="3.4" height="3.4" fill="#f0108a"/>
<line x1="434.20" y1="376.50" x2="434.20" y2="381.34" stroke="#f0108a" stroke-width="2.0" />
<rect x="432.50" y="377.22" width="3.4" height="3.4" fill="#f0108a"/>
<text x="456.60" y="346.10" font-size="16.5" text-anchor="start" font-weight="bold" fill="#111" >(h)</text>
<line x1="501.20" y1="490.90" x2="498.20" y2="490.90" stroke="#4a4a4a" stroke-width="0.8" />
<line x1="501.20" y1="477.52" x2="499.60" y2="477.52" stroke="#4a4a4a" stroke-width="0.8" />
<text x="497.00" y="492.90" font-size="5.6" text-anchor="end" font-weight="normal" fill="#3a3a3a" letter-spacing="1.2">0.000</text>
<line x1="501.20" y1="464.14" x2="498.20" y2="464.14" stroke="#4a4a4a" stroke-width="0.8" />
<line x1="501.20" y1="450.76" x2="499.60" y2="450.76" stroke="#4a4a4a" stroke-width="0.8" />
<text x="497.00" y="466.14" font-size="5.6" text-anchor="end" font-weight="normal" fill="#3a3a3a" letter-spacing="1.2">0.002</text>
<line x1="501.20" y1="437.38" x2="498.20" y2="437.38" stroke="#4a4a4a" stroke-width="0.8" />
<line x1="501.20" y1="424.00" x2="499.60" y2="424.00" stroke="#4a4a4a" stroke-width="0.8" />
<text x="497.00" y="439.38" font-size="5.6" text-anchor="end" font-weight="normal" fill="#3a3a3a" letter-spacing="1.2">0.004</text>
<line x1="501.20" y1="410.62" x2="498.20" y2="410.62" stroke="#4a4a4a" stroke-width="0.8" />
<line x1="501.20" y1="397.24" x2="499.60" y2="397.24" stroke="#4a4a4a" stroke-width="0.8" />
<text x="497.00" y="412.62" font-size="5.6" text-anchor="end" font-weight="normal" fill="#3a3a3a" letter-spacing="1.2">0.006</text>
<line x1="501.20" y1="383.86" x2="498.20" y2="383.86" stroke="#4a4a4a" stroke-width="0.8" />
<line x1="501.20" y1="370.48" x2="499.60" y2="370.48" stroke="#4a4a4a" stroke-width="0.8" />
<text x="497.00" y="385.86" font-size="5.6" text-anchor="end" font-weight="normal" fill="#3a3a3a" letter-spacing="1.2">0.008</text>
<line x1="501.20" y1="357.10" x2="498.20" y2="357.10" stroke="#4a4a4a" stroke-width="0.8" />
<text x="497.00" y="359.10" font-size="5.6" text-anchor="end" font-weight="normal" fill="#3a3a3a" letter-spacing="1.2">0.010</text>
<rect x="537.20" y="431.89" width="18.6" height="59.41" fill="#0a7a76" stroke="#113" stroke-width="0.7"/>
<line x1="546.50" y1="422.53" x2="546.50" y2="441.26" stroke="#222" stroke-width="0.8" />
<line x1="544.90" y1="422.53" x2="548.10" y2="422.53" stroke="#222" stroke-width="0.8" />
<line x1="544.90" y1="441.26" x2="548.10" y2="441.26" stroke="#222" stroke-width="0.8" />
<line x1="546.50" y1="491.30" x2="546.50" y2="494.30" stroke="#4a4a4a" stroke-width="0.8" />
<text x="551.00" y="504.20" font-size="10" text-anchor="middle" font-weight="normal" fill="#3a3a3a" textLength="22" lengthAdjust="spacingAndGlyphs">30<tspan font-size="6.5" dy="-3">o</tspan><tspan dy="3">C</tspan></text>
<rect x="628.10" y="407.14" width="18.6" height="84.16" fill="#0a7a76" stroke="#113" stroke-width="0.7"/>
<line x1="637.40" y1="405.13" x2="637.40" y2="409.15" stroke="#222" stroke-width="0.8" />
<line x1="635.80" y1="405.13" x2="639.00" y2="405.13" stroke="#222" stroke-width="0.8" />
<line x1="635.80" y1="409.15" x2="639.00" y2="409.15" stroke="#222" stroke-width="0.8" />
<line x1="637.40" y1="491.30" x2="637.40" y2="494.30" stroke="#4a4a4a" stroke-width="0.8" />
<text x="641.90" y="504.20" font-size="10" text-anchor="middle" font-weight="normal" fill="#3a3a3a" textLength="22" lengthAdjust="spacingAndGlyphs">40<tspan font-size="6.5" dy="-3">o</tspan><tspan dy="3">C</tspan></text>
<rect x="501.20" y="357.10" width="181.90" height="134.20" fill="none" stroke="#4a4a4a" stroke-width="1.1"/>
<text x="0.00" y="0.00" font-size="10.3" text-anchor="middle" font-weight="normal" fill="#3a3a3a" transform="translate(471.5,418.5) rotate(-90)">Relative  sensitivity  (/KPa)</text>
<text x="599.00" y="515.20" font-size="10.3" text-anchor="middle" font-weight="normal" fill="#3a3a3a" >Temperature  (<tspan font-size="6.5" dy="-3">o</tspan><tspan dy="3">C)</tspan></text>
</svg>
</body></html>
